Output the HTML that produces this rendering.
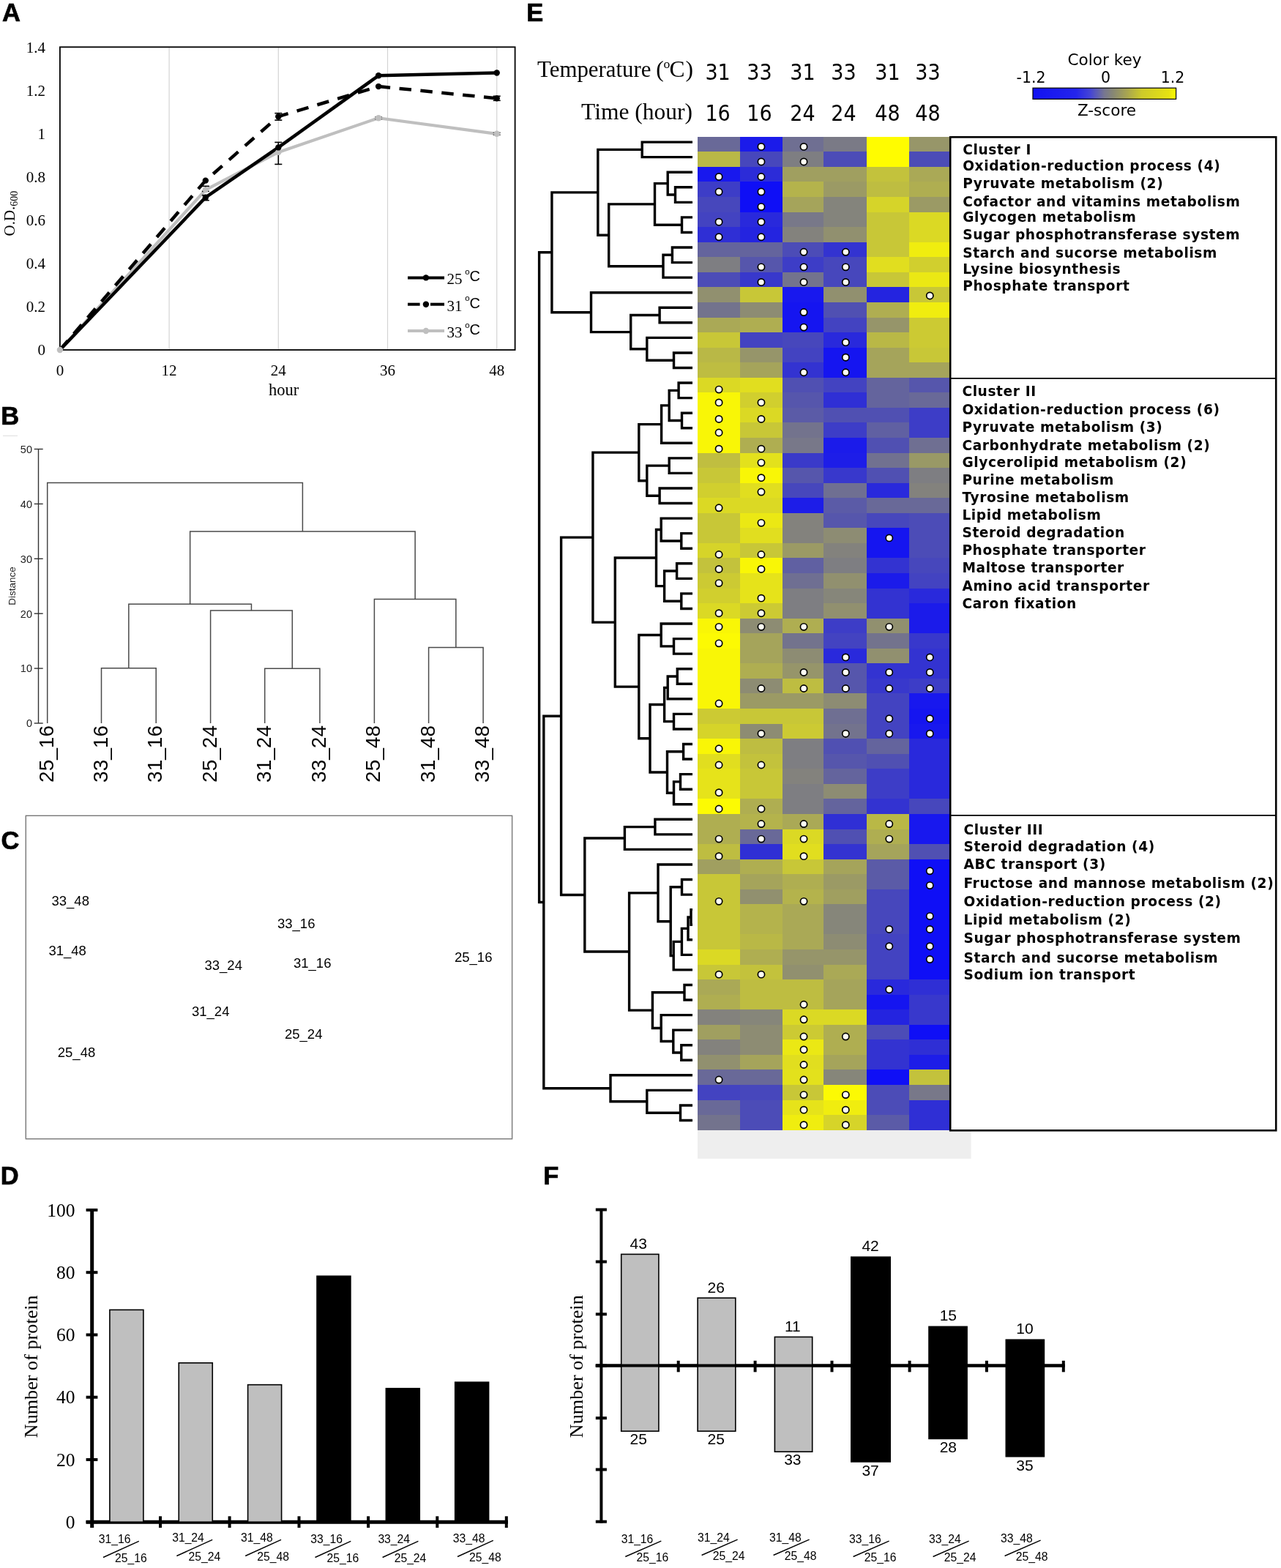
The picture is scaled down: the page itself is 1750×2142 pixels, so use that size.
<!DOCTYPE html><html><head><meta charset="utf-8"><title>Figure</title><style>html,body{margin:0;padding:0;background:#fff;overflow:hidden;width:1750px;height:2142px;}svg{display:block;}</style></head><body>
<svg width="1750" height="2142" viewBox="0 0 1750 2142">
<rect width="1750" height="2142" fill="#fff"/>
<text x="3" y="28.9" font-size="34.5" font-family="'Liberation Sans',Arial,sans-serif" text-anchor="start" font-weight="bold" fill="#000" stroke="#000" stroke-width="0.7">A</text>
<line x1="231.1" y1="64.3" x2="231.1" y2="478" stroke="#d4d4d4" stroke-width="1.2" />
<line x1="380.3" y1="64.3" x2="380.3" y2="478" stroke="#d4d4d4" stroke-width="1.2" />
<line x1="529.5" y1="64.3" x2="529.5" y2="478" stroke="#d4d4d4" stroke-width="1.2" />
<line x1="678.7" y1="64.3" x2="678.7" y2="478" stroke="#d4d4d4" stroke-width="1.2" />
<rect x="81.9" y="64.3" width="621.7" height="413.7" fill="none" stroke="#000" stroke-width="1.8"/>
<text x="62" y="485.2" font-size="21" font-family="'Liberation Serif','Times New Roman',serif" text-anchor="end" font-weight="normal" fill="#000" >0</text>
<text x="62" y="426.1" font-size="21" font-family="'Liberation Serif','Times New Roman',serif" text-anchor="end" font-weight="normal" fill="#000" >0.2</text>
<text x="62" y="367" font-size="21" font-family="'Liberation Serif','Times New Roman',serif" text-anchor="end" font-weight="normal" fill="#000" >0.4</text>
<text x="62" y="307.9" font-size="21" font-family="'Liberation Serif','Times New Roman',serif" text-anchor="end" font-weight="normal" fill="#000" >0.6</text>
<text x="62" y="248.8" font-size="21" font-family="'Liberation Serif','Times New Roman',serif" text-anchor="end" font-weight="normal" fill="#000" >0.8</text>
<text x="62" y="189.7" font-size="21" font-family="'Liberation Serif','Times New Roman',serif" text-anchor="end" font-weight="normal" fill="#000" >1</text>
<text x="62" y="130.6" font-size="21" font-family="'Liberation Serif','Times New Roman',serif" text-anchor="end" font-weight="normal" fill="#000" >1.2</text>
<text x="62" y="71.5" font-size="21" font-family="'Liberation Serif','Times New Roman',serif" text-anchor="end" font-weight="normal" fill="#000" >1.4</text>
<text x="81.9" y="512.8" font-size="21" font-family="'Liberation Serif','Times New Roman',serif" text-anchor="middle" font-weight="normal" fill="#000" >0</text>
<text x="231.1" y="512.8" font-size="21" font-family="'Liberation Serif','Times New Roman',serif" text-anchor="middle" font-weight="normal" fill="#000" >12</text>
<text x="380.3" y="512.8" font-size="21" font-family="'Liberation Serif','Times New Roman',serif" text-anchor="middle" font-weight="normal" fill="#000" >24</text>
<text x="529.5" y="512.8" font-size="21" font-family="'Liberation Serif','Times New Roman',serif" text-anchor="middle" font-weight="normal" fill="#000" >36</text>
<text x="678.7" y="512.8" font-size="21" font-family="'Liberation Serif','Times New Roman',serif" text-anchor="middle" font-weight="normal" fill="#000" >48</text>
<text x="387.7" y="539.5" font-size="22.5" font-family="'Liberation Serif','Times New Roman',serif" text-anchor="middle" font-weight="normal" fill="#000" >hour</text>
<text transform="translate(20,322.5) rotate(-90)" font-size="21" font-family="'Liberation Serif','Times New Roman',serif" fill="#000">O.D.<tspan font-size="14" dy="4">600</tspan></text>
<polyline points="81.9,478 280.83,259.33 380.3,207.91 517.07,161.22 678.7,182.8" fill="none" stroke="#bfbfbf" stroke-width="4.2" stroke-linejoin="round"/>
<polyline points="81.9,478 280.83,269.67 380.3,201.41 517.07,103.31 678.7,99.46" fill="none" stroke="#000" stroke-width="4.5" stroke-linejoin="round"/>
<polyline points="81.9,478 280.83,246.62 380.3,159.16 517.07,118.08 678.7,134.33" fill="none" stroke="#000" stroke-width="4.5" stroke-dasharray="16.5 12.5" stroke-linejoin="round"/>
<line x1="380.3" y1="194.41" x2="380.3" y2="224.41" stroke="#000" stroke-width="1.6" />
<line x1="375.3" y1="194.41" x2="385.3" y2="194.41" stroke="#000" stroke-width="1.6" />
<line x1="375.3" y1="224.41" x2="385.3" y2="224.41" stroke="#000" stroke-width="1.6" />
<line x1="380.3" y1="154.66" x2="380.3" y2="164.16" stroke="#000" stroke-width="1.6" />
<line x1="375.3" y1="154.66" x2="385.3" y2="154.66" stroke="#000" stroke-width="1.6" />
<line x1="375.3" y1="164.16" x2="385.3" y2="164.16" stroke="#000" stroke-width="1.6" />
<line x1="280.83" y1="266.67" x2="280.83" y2="273.67" stroke="#000" stroke-width="1.6" />
<line x1="275.83" y1="266.67" x2="285.83" y2="266.67" stroke="#000" stroke-width="1.6" />
<line x1="275.83" y1="273.67" x2="285.83" y2="273.67" stroke="#000" stroke-width="1.6" />
<line x1="280.83" y1="254.33" x2="280.83" y2="261.33" stroke="#000" stroke-width="1.6" />
<line x1="275.83" y1="254.33" x2="285.83" y2="254.33" stroke="#000" stroke-width="1.6" />
<line x1="275.83" y1="261.33" x2="285.83" y2="261.33" stroke="#000" stroke-width="1.6" />
<line x1="678.7" y1="131.33" x2="678.7" y2="137.33" stroke="#000" stroke-width="1.6" />
<line x1="673.7" y1="131.33" x2="683.7" y2="131.33" stroke="#000" stroke-width="1.6" />
<line x1="673.7" y1="137.33" x2="683.7" y2="137.33" stroke="#000" stroke-width="1.6" />
<line x1="678.7" y1="181.3" x2="678.7" y2="184.3" stroke="#555" stroke-width="1.6" />
<line x1="673.7" y1="181.3" x2="683.7" y2="181.3" stroke="#555" stroke-width="1.6" />
<line x1="673.7" y1="184.3" x2="683.7" y2="184.3" stroke="#555" stroke-width="1.6" />
<line x1="517.07" y1="159.72" x2="517.07" y2="162.72" stroke="#777" stroke-width="1.6" />
<line x1="512.07" y1="159.72" x2="522.07" y2="159.72" stroke="#777" stroke-width="1.6" />
<line x1="512.07" y1="162.72" x2="522.07" y2="162.72" stroke="#777" stroke-width="1.6" />
<circle cx="81.9" cy="478" r="4.2" fill="#bfbfbf"/>
<circle cx="280.83" cy="259.33" r="4.2" fill="#bfbfbf"/>
<circle cx="380.3" cy="207.91" r="4.2" fill="#bfbfbf"/>
<circle cx="517.07" cy="161.22" r="4.2" fill="#bfbfbf"/>
<circle cx="678.7" cy="182.8" r="4.2" fill="#bfbfbf"/>
<circle cx="280.83" cy="269.67" r="4.2" fill="#000"/>
<circle cx="380.3" cy="201.41" r="4.2" fill="#000"/>
<circle cx="517.07" cy="103.31" r="4.2" fill="#000"/>
<circle cx="678.7" cy="99.46" r="4.2" fill="#000"/>
<circle cx="280.83" cy="246.62" r="4.2" fill="#000"/>
<circle cx="380.3" cy="159.16" r="4.2" fill="#000"/>
<circle cx="517.07" cy="118.08" r="4.2" fill="#000"/>
<circle cx="678.7" cy="134.33" r="4.2" fill="#000"/>
<line x1="557" y1="379.4" x2="607" y2="379.4" stroke="#000" stroke-width="4" />
<circle cx="581.9" cy="379.4" r="4.2" fill="#000"/>
<text x="610.5" y="388.4" font-size="21" font-family="'Liberation Serif','Times New Roman',serif" text-anchor="start" font-weight="normal" fill="#000" >25</text>
<text x="635.3" y="374.9" font-size="11.5" font-family="'Liberation Sans',Arial,sans-serif" text-anchor="start" font-weight="normal" fill="#000" >o</text>
<text x="641.6" y="384.4" font-size="20" font-family="'Liberation Sans',Arial,sans-serif" text-anchor="start" font-weight="normal" fill="#000" >C</text>
<line x1="557" y1="415.7" x2="573.6" y2="415.7" stroke="#000" stroke-width="4" />
<line x1="588" y1="415.7" x2="607" y2="415.7" stroke="#000" stroke-width="4" />
<circle cx="581.9" cy="415.7" r="4.2" fill="#000"/>
<text x="610.5" y="424.7" font-size="21" font-family="'Liberation Serif','Times New Roman',serif" text-anchor="start" font-weight="normal" fill="#000" >31</text>
<text x="635.3" y="411.2" font-size="11.5" font-family="'Liberation Sans',Arial,sans-serif" text-anchor="start" font-weight="normal" fill="#000" >o</text>
<text x="641.6" y="420.7" font-size="20" font-family="'Liberation Sans',Arial,sans-serif" text-anchor="start" font-weight="normal" fill="#000" >C</text>
<line x1="557" y1="452" x2="607" y2="452" stroke="#bfbfbf" stroke-width="4" />
<circle cx="581.9" cy="452" r="4.2" fill="#bfbfbf"/>
<text x="610.5" y="461" font-size="21" font-family="'Liberation Serif','Times New Roman',serif" text-anchor="start" font-weight="normal" fill="#000" >33</text>
<text x="635.3" y="447.5" font-size="11.5" font-family="'Liberation Sans',Arial,sans-serif" text-anchor="start" font-weight="normal" fill="#000" >o</text>
<text x="641.6" y="457" font-size="20" font-family="'Liberation Sans',Arial,sans-serif" text-anchor="start" font-weight="normal" fill="#000" >C</text>
<text x="1.2" y="579.7" font-size="34.5" font-family="'Liberation Sans',Arial,sans-serif" text-anchor="start" font-weight="bold" fill="#000" stroke="#000" stroke-width="0.7">B</text>
<line x1="4" y1="595.3" x2="24" y2="595.3" stroke="#ddd" stroke-width="1" />
<line x1="52.5" y1="613.5" x2="52.5" y2="988" stroke="#333" stroke-width="1.4" />
<line x1="46.7" y1="988" x2="58.7" y2="988" stroke="#333" stroke-width="1.4" />
<text x="44" y="993.3" font-size="14.5" font-family="'Liberation Sans',Arial,sans-serif" text-anchor="end" font-weight="normal" fill="#222" >0</text>
<line x1="46.7" y1="913.1" x2="58.7" y2="913.1" stroke="#333" stroke-width="1.4" />
<text x="44" y="918.4" font-size="14.5" font-family="'Liberation Sans',Arial,sans-serif" text-anchor="end" font-weight="normal" fill="#222" >10</text>
<line x1="46.7" y1="838.2" x2="58.7" y2="838.2" stroke="#333" stroke-width="1.4" />
<text x="44" y="843.5" font-size="14.5" font-family="'Liberation Sans',Arial,sans-serif" text-anchor="end" font-weight="normal" fill="#222" >20</text>
<line x1="46.7" y1="763.3" x2="58.7" y2="763.3" stroke="#333" stroke-width="1.4" />
<text x="44" y="768.6" font-size="14.5" font-family="'Liberation Sans',Arial,sans-serif" text-anchor="end" font-weight="normal" fill="#222" >30</text>
<line x1="46.7" y1="688.4" x2="58.7" y2="688.4" stroke="#333" stroke-width="1.4" />
<text x="44" y="693.7" font-size="14.5" font-family="'Liberation Sans',Arial,sans-serif" text-anchor="end" font-weight="normal" fill="#222" >40</text>
<line x1="46.7" y1="613.5" x2="58.7" y2="613.5" stroke="#333" stroke-width="1.4" />
<text x="44" y="618.8" font-size="14.5" font-family="'Liberation Sans',Arial,sans-serif" text-anchor="end" font-weight="normal" fill="#222" >50</text>
<text transform="translate(21,800.5) rotate(-90)" font-size="13.5" font-family="'Liberation Sans',Arial,sans-serif" text-anchor="middle" fill="#222">Distance</text>
<path d="M138.5 988V912.7H213.2V988M361.7 988V913.3H436.9V988M287.6 988V833.9H399.3V913.3M175.85 912.7V825.2H343.45V833.9M585.6 988V884.5H660.1V988M511.4 988V818.4H622.85V884.5M259.65 825.2V725.9H567.12V818.4M64.7 988V659.5H413.39V725.9" fill="none" stroke="#4a4a4a" stroke-width="1.5"/>
<text transform="translate(72.7,991) rotate(-90)" font-size="28" font-family="'Liberation Sans',Arial,sans-serif" text-anchor="end" fill="#000">25_16</text>
<text transform="translate(146.5,991) rotate(-90)" font-size="28" font-family="'Liberation Sans',Arial,sans-serif" text-anchor="end" fill="#000">33_16</text>
<text transform="translate(221.2,991) rotate(-90)" font-size="28" font-family="'Liberation Sans',Arial,sans-serif" text-anchor="end" fill="#000">31_16</text>
<text transform="translate(295.6,991) rotate(-90)" font-size="28" font-family="'Liberation Sans',Arial,sans-serif" text-anchor="end" fill="#000">25_24</text>
<text transform="translate(369.7,991) rotate(-90)" font-size="28" font-family="'Liberation Sans',Arial,sans-serif" text-anchor="end" fill="#000">31_24</text>
<text transform="translate(444.9,991) rotate(-90)" font-size="28" font-family="'Liberation Sans',Arial,sans-serif" text-anchor="end" fill="#000">33_24</text>
<text transform="translate(519.4,991) rotate(-90)" font-size="28" font-family="'Liberation Sans',Arial,sans-serif" text-anchor="end" fill="#000">25_48</text>
<text transform="translate(593.6,991) rotate(-90)" font-size="28" font-family="'Liberation Sans',Arial,sans-serif" text-anchor="end" fill="#000">31_48</text>
<text transform="translate(668.1,991) rotate(-90)" font-size="28" font-family="'Liberation Sans',Arial,sans-serif" text-anchor="end" fill="#000">33_48</text>
<text x="1.6" y="1160.2" font-size="34.5" font-family="'Liberation Sans',Arial,sans-serif" text-anchor="start" font-weight="bold" fill="#000" stroke="#000" stroke-width="0.7">C</text>
<rect x="35.3" y="1114.3" width="664.3" height="441.5" fill="none" stroke="#777" stroke-width="1.4"/>
<text x="70.5" y="1236.8" font-size="18.5" font-family="'Liberation Sans',Arial,sans-serif" text-anchor="start" font-weight="normal" fill="#000" >33_48</text>
<text x="66.4" y="1305.2" font-size="18.5" font-family="'Liberation Sans',Arial,sans-serif" text-anchor="start" font-weight="normal" fill="#000" >31_48</text>
<text x="379" y="1267.6" font-size="18.5" font-family="'Liberation Sans',Arial,sans-serif" text-anchor="start" font-weight="normal" fill="#000" >33_16</text>
<text x="279.5" y="1325" font-size="18.5" font-family="'Liberation Sans',Arial,sans-serif" text-anchor="start" font-weight="normal" fill="#000" >33_24</text>
<text x="401" y="1322" font-size="18.5" font-family="'Liberation Sans',Arial,sans-serif" text-anchor="start" font-weight="normal" fill="#000" >31_16</text>
<text x="621" y="1313.7" font-size="18.5" font-family="'Liberation Sans',Arial,sans-serif" text-anchor="start" font-weight="normal" fill="#000" >25_16</text>
<text x="262" y="1387.6" font-size="18.5" font-family="'Liberation Sans',Arial,sans-serif" text-anchor="start" font-weight="normal" fill="#000" >31_24</text>
<text x="389" y="1418.7" font-size="18.5" font-family="'Liberation Sans',Arial,sans-serif" text-anchor="start" font-weight="normal" fill="#000" >25_24</text>
<text x="78.8" y="1444.4" font-size="18.5" font-family="'Liberation Sans',Arial,sans-serif" text-anchor="start" font-weight="normal" fill="#000" >25_48</text>
<text x="0.8" y="1618.2" font-size="34.5" font-family="'Liberation Sans',Arial,sans-serif" text-anchor="start" font-weight="bold" fill="#000" stroke="#000" stroke-width="0.7">D</text>
<line x1="125.7" y1="1651" x2="125.7" y2="2087" stroke="#000" stroke-width="5" />
<line x1="117.6" y1="2079.2" x2="133.4" y2="2079.2" stroke="#000" stroke-width="4" />
<text x="102.5" y="2087.8" font-size="25.5" font-family="'Liberation Serif','Times New Roman',serif" text-anchor="end" font-weight="normal" fill="#000" >0</text>
<line x1="117.6" y1="1993.95" x2="133.4" y2="1993.95" stroke="#000" stroke-width="4" />
<text x="102.5" y="2002.55" font-size="25.5" font-family="'Liberation Serif','Times New Roman',serif" text-anchor="end" font-weight="normal" fill="#000" >20</text>
<line x1="117.6" y1="1908.7" x2="133.4" y2="1908.7" stroke="#000" stroke-width="4" />
<text x="102.5" y="1917.3" font-size="25.5" font-family="'Liberation Serif','Times New Roman',serif" text-anchor="end" font-weight="normal" fill="#000" >40</text>
<line x1="117.6" y1="1823.45" x2="133.4" y2="1823.45" stroke="#000" stroke-width="4" />
<text x="102.5" y="1832.05" font-size="25.5" font-family="'Liberation Serif','Times New Roman',serif" text-anchor="end" font-weight="normal" fill="#000" >60</text>
<line x1="117.6" y1="1738.2" x2="133.4" y2="1738.2" stroke="#000" stroke-width="4" />
<text x="102.5" y="1746.8" font-size="25.5" font-family="'Liberation Serif','Times New Roman',serif" text-anchor="end" font-weight="normal" fill="#000" >80</text>
<line x1="117.6" y1="1652.95" x2="133.4" y2="1652.95" stroke="#000" stroke-width="4" />
<text x="102.5" y="1661.55" font-size="25.5" font-family="'Liberation Serif','Times New Roman',serif" text-anchor="end" font-weight="normal" fill="#000" >100</text>
<line x1="117.6" y1="2079.2" x2="694" y2="2079.2" stroke="#000" stroke-width="5" />
<line x1="219" y1="2071.3" x2="219" y2="2087" stroke="#000" stroke-width="4" />
<line x1="313.6" y1="2071.3" x2="313.6" y2="2087" stroke="#000" stroke-width="4" />
<line x1="408.5" y1="2071.3" x2="408.5" y2="2087" stroke="#000" stroke-width="4" />
<line x1="503.1" y1="2071.3" x2="503.1" y2="2087" stroke="#000" stroke-width="4" />
<line x1="597.3" y1="2071.3" x2="597.3" y2="2087" stroke="#000" stroke-width="4" />
<line x1="691.8" y1="2071.3" x2="691.8" y2="2087" stroke="#000" stroke-width="4" />
<rect x="149.9" y="1789.35" width="46" height="289.85" fill="#bfbfbf" stroke="#000" stroke-width="1.6"/>
<rect x="244.25" y="1861.81" width="46" height="217.39" fill="#bfbfbf" stroke="#000" stroke-width="1.6"/>
<rect x="338.6" y="1891.65" width="46" height="187.55" fill="#bfbfbf" stroke="#000" stroke-width="1.6"/>
<rect x="432.2" y="1742.46" width="47.5" height="336.74" fill="#000"/>
<rect x="526.55" y="1895.91" width="47.5" height="183.29" fill="#000"/>
<rect x="620.9" y="1887.39" width="47.5" height="191.81" fill="#000"/>
<text transform="translate(51,1866.8) rotate(-90)" font-size="26.2" font-family="'Liberation Serif','Times New Roman',serif" text-anchor="middle" fill="#000">Number of protein</text>
<text x="134.8" y="2107.8" font-size="15.7" font-family="'Liberation Sans',Arial,sans-serif" text-anchor="start" font-weight="normal" fill="#000" >31_16</text>
<line x1="141" y1="2127.5" x2="189.8" y2="2105.3" stroke="#000" stroke-width="1.4" />
<text x="157.1" y="2134.2" font-size="15.7" font-family="'Liberation Sans',Arial,sans-serif" text-anchor="start" font-weight="normal" fill="#000" >25_16</text>
<text x="235.2" y="2105.8" font-size="15.7" font-family="'Liberation Sans',Arial,sans-serif" text-anchor="start" font-weight="normal" fill="#000" >31_24</text>
<line x1="241.4" y1="2125.5" x2="290.2" y2="2103.3" stroke="#000" stroke-width="1.4" />
<text x="257.5" y="2132.2" font-size="15.7" font-family="'Liberation Sans',Arial,sans-serif" text-anchor="start" font-weight="normal" fill="#000" >25_24</text>
<text x="329" y="2105.8" font-size="15.7" font-family="'Liberation Sans',Arial,sans-serif" text-anchor="start" font-weight="normal" fill="#000" >31_48</text>
<line x1="335.2" y1="2125.5" x2="384" y2="2103.3" stroke="#000" stroke-width="1.4" />
<text x="351.3" y="2132.2" font-size="15.7" font-family="'Liberation Sans',Arial,sans-serif" text-anchor="start" font-weight="normal" fill="#000" >25_48</text>
<text x="424.3" y="2107.8" font-size="15.7" font-family="'Liberation Sans',Arial,sans-serif" text-anchor="start" font-weight="normal" fill="#000" >33_16</text>
<line x1="430.5" y1="2127.5" x2="479.3" y2="2105.3" stroke="#000" stroke-width="1.4" />
<text x="446.6" y="2134.2" font-size="15.7" font-family="'Liberation Sans',Arial,sans-serif" text-anchor="start" font-weight="normal" fill="#000" >25_16</text>
<text x="516.4" y="2107.8" font-size="15.7" font-family="'Liberation Sans',Arial,sans-serif" text-anchor="start" font-weight="normal" fill="#000" >33_24</text>
<line x1="522.6" y1="2127.5" x2="571.4" y2="2105.3" stroke="#000" stroke-width="1.4" />
<text x="538.7" y="2134.2" font-size="15.7" font-family="'Liberation Sans',Arial,sans-serif" text-anchor="start" font-weight="normal" fill="#000" >25_24</text>
<text x="618.8" y="2106.8" font-size="15.7" font-family="'Liberation Sans',Arial,sans-serif" text-anchor="start" font-weight="normal" fill="#000" >33_48</text>
<line x1="625" y1="2126.5" x2="673.8" y2="2104.3" stroke="#000" stroke-width="1.4" />
<text x="641.1" y="2133.2" font-size="15.7" font-family="'Liberation Sans',Arial,sans-serif" text-anchor="start" font-weight="normal" fill="#000" >25_48</text>
<text x="719.2" y="29.4" font-size="34.5" font-family="'Liberation Sans',Arial,sans-serif" text-anchor="start" font-weight="bold" fill="#000" stroke="#000" stroke-width="0.7">E</text>
<text x="734" y="105.2" font-size="31.5" font-family="'Liberation Serif','Times New Roman',serif" text-anchor="start" font-weight="normal" fill="#000" textLength="155.5" lengthAdjust="spacingAndGlyphs">Temperature</text>
<text x="896.2" y="105.2" font-size="31.5" font-family="'Liberation Serif','Times New Roman',serif" text-anchor="start" font-weight="normal" fill="#000" >(</text>
<text x="906.6" y="92.6" font-size="17.5" font-family="'Liberation Serif','Times New Roman',serif" text-anchor="start" font-weight="normal" fill="#000" >o</text>
<text x="914.6" y="105.2" font-size="31.5" font-family="'Liberation Serif','Times New Roman',serif" text-anchor="start" font-weight="normal" fill="#000" >C</text>
<text x="936.4" y="105.2" font-size="31.5" font-family="'Liberation Serif','Times New Roman',serif" text-anchor="start" font-weight="normal" fill="#000" >)</text>
<text x="946" y="163" font-size="31.5" font-family="'Liberation Serif','Times New Roman',serif" text-anchor="end" font-weight="normal" fill="#000" >Time (hour)</text>
<text x="980.6" y="109.3" font-size="30" font-family="'DejaVu Sans',Verdana,sans-serif" text-anchor="middle" font-weight="normal" fill="#000" font-stretch="condensed">31</text>
<text x="980.6" y="164.7" font-size="30" font-family="'DejaVu Sans',Verdana,sans-serif" text-anchor="middle" font-weight="normal" fill="#000" font-stretch="condensed">16</text>
<text x="1037.4" y="109.3" font-size="30" font-family="'DejaVu Sans',Verdana,sans-serif" text-anchor="middle" font-weight="normal" fill="#000" font-stretch="condensed">33</text>
<text x="1037.4" y="164.7" font-size="30" font-family="'DejaVu Sans',Verdana,sans-serif" text-anchor="middle" font-weight="normal" fill="#000" font-stretch="condensed">16</text>
<text x="1096.5" y="109.3" font-size="30" font-family="'DejaVu Sans',Verdana,sans-serif" text-anchor="middle" font-weight="normal" fill="#000" font-stretch="condensed">31</text>
<text x="1096.5" y="164.7" font-size="30" font-family="'DejaVu Sans',Verdana,sans-serif" text-anchor="middle" font-weight="normal" fill="#000" font-stretch="condensed">24</text>
<text x="1152.4" y="109.3" font-size="30" font-family="'DejaVu Sans',Verdana,sans-serif" text-anchor="middle" font-weight="normal" fill="#000" font-stretch="condensed">33</text>
<text x="1152.4" y="164.7" font-size="30" font-family="'DejaVu Sans',Verdana,sans-serif" text-anchor="middle" font-weight="normal" fill="#000" font-stretch="condensed">24</text>
<text x="1212.5" y="109.3" font-size="30" font-family="'DejaVu Sans',Verdana,sans-serif" text-anchor="middle" font-weight="normal" fill="#000" font-stretch="condensed">31</text>
<text x="1212.5" y="164.7" font-size="30" font-family="'DejaVu Sans',Verdana,sans-serif" text-anchor="middle" font-weight="normal" fill="#000" font-stretch="condensed">48</text>
<text x="1267.5" y="109.3" font-size="30" font-family="'DejaVu Sans',Verdana,sans-serif" text-anchor="middle" font-weight="normal" fill="#000" font-stretch="condensed">33</text>
<text x="1267.5" y="164.7" font-size="30" font-family="'DejaVu Sans',Verdana,sans-serif" text-anchor="middle" font-weight="normal" fill="#000" font-stretch="condensed">48</text>
<defs><linearGradient id="ck" x1="0" x2="1" y1="0" y2="0"><stop offset="0" stop-color="#1212f2"/><stop offset="0.3" stop-color="#2424ec"/><stop offset="0.4" stop-color="#4444d6"/><stop offset="0.5" stop-color="#777790"/><stop offset="0.56" stop-color="#878774"/><stop offset="0.66" stop-color="#a9a650"/><stop offset="0.76" stop-color="#cdca2a"/><stop offset="0.95" stop-color="#e6e212"/><stop offset="1" stop-color="#ffff00"/></linearGradient></defs>
<rect x="1411" y="120.2" width="195.6" height="15.2" fill="url(#ck)" stroke="#000" stroke-width="1.2"/>
<text x="1509" y="89.4" font-size="21.6" font-family="'DejaVu Sans',Verdana,sans-serif" text-anchor="middle" font-weight="normal" fill="#000" >Color key</text>
<text x="1408.5" y="113" font-size="20.5" font-family="'DejaVu Sans',Verdana,sans-serif" text-anchor="middle" font-weight="normal" fill="#000" >-1.2</text>
<text x="1510.5" y="113" font-size="20.5" font-family="'DejaVu Sans',Verdana,sans-serif" text-anchor="middle" font-weight="normal" fill="#000" >0</text>
<text x="1602" y="113" font-size="20.5" font-family="'DejaVu Sans',Verdana,sans-serif" text-anchor="middle" font-weight="normal" fill="#000" >1.2</text>
<text x="1512" y="158.2" font-size="21.6" font-family="'DejaVu Sans',Verdana,sans-serif" text-anchor="middle" font-weight="normal" fill="#000" >Z-score</text>
<g shape-rendering="crispEdges">
<rect x="953.2" y="186.8" width="58.1" height="20.86" fill="#696998"/>
<rect x="1011" y="186.8" width="58.2" height="20.86" fill="#1b1bea"/>
<rect x="1068.9" y="186.8" width="56.8" height="20.86" fill="#6f6f92"/>
<rect x="1125.4" y="186.8" width="58.5" height="20.86" fill="#7a7a86"/>
<rect x="1183.6" y="186.8" width="58.7" height="20.86" fill="#fffc00"/>
<rect x="1242" y="186.8" width="55.9" height="20.86" fill="#979669"/>
<rect x="953.2" y="207.36" width="58.1" height="20.86" fill="#b9b846"/>
<rect x="1011" y="207.36" width="58.2" height="20.86" fill="#4747bc"/>
<rect x="1068.9" y="207.36" width="56.8" height="20.86" fill="#7e7e82"/>
<rect x="1125.4" y="207.36" width="58.5" height="20.86" fill="#4c4cb7"/>
<rect x="1183.6" y="207.36" width="58.7" height="20.86" fill="#fffc00"/>
<rect x="1242" y="207.36" width="55.9" height="20.86" fill="#4c4cb7"/>
<rect x="953.2" y="227.92" width="58.1" height="20.86" fill="#1818ee"/>
<rect x="1011" y="227.92" width="58.2" height="20.86" fill="#2c2cd8"/>
<rect x="1068.9" y="227.92" width="56.8" height="20.86" fill="#a09f60"/>
<rect x="1125.4" y="227.92" width="58.5" height="20.86" fill="#a09f60"/>
<rect x="1183.6" y="227.92" width="58.7" height="20.86" fill="#c3c23c"/>
<rect x="1242" y="227.92" width="55.9" height="20.86" fill="#aaa956"/>
<rect x="953.2" y="248.48" width="58.1" height="20.86" fill="#3d3dc7"/>
<rect x="1011" y="248.48" width="58.2" height="20.86" fill="#0f0ff6"/>
<rect x="1068.9" y="248.48" width="56.8" height="20.86" fill="#b4b34c"/>
<rect x="1125.4" y="248.48" width="58.5" height="20.86" fill="#9b9a65"/>
<rect x="1183.6" y="248.48" width="58.7" height="20.86" fill="#bebd41"/>
<rect x="1242" y="248.48" width="55.9" height="20.86" fill="#afae51"/>
<rect x="953.2" y="269.04" width="58.1" height="20.86" fill="#4747bc"/>
<rect x="1011" y="269.04" width="58.2" height="20.86" fill="#0f0ff6"/>
<rect x="1068.9" y="269.04" width="56.8" height="20.86" fill="#a5a45b"/>
<rect x="1125.4" y="269.04" width="58.5" height="20.86" fill="#84847c"/>
<rect x="1183.6" y="269.04" width="58.7" height="20.86" fill="#d6d429"/>
<rect x="1242" y="269.04" width="55.9" height="20.86" fill="#9b9a65"/>
<rect x="953.2" y="289.6" width="58.1" height="20.86" fill="#4343c1"/>
<rect x="1011" y="289.6" width="58.2" height="20.86" fill="#2929dc"/>
<rect x="1068.9" y="289.6" width="56.8" height="20.86" fill="#787889"/>
<rect x="1125.4" y="289.6" width="58.5" height="20.86" fill="#84847c"/>
<rect x="1183.6" y="289.6" width="58.7" height="20.86" fill="#c8c737"/>
<rect x="1242" y="289.6" width="55.9" height="20.86" fill="#dbd924"/>
<rect x="953.2" y="310.15" width="58.1" height="20.86" fill="#2f2fd5"/>
<rect x="1011" y="310.15" width="58.2" height="20.86" fill="#2424e0"/>
<rect x="1068.9" y="310.15" width="56.8" height="20.86" fill="#83827d"/>
<rect x="1125.4" y="310.15" width="58.5" height="20.86" fill="#91906f"/>
<rect x="1183.6" y="310.15" width="58.7" height="20.86" fill="#c8c737"/>
<rect x="1242" y="310.15" width="55.9" height="20.86" fill="#dbd924"/>
<rect x="953.2" y="330.71" width="58.1" height="20.86" fill="#64649d"/>
<rect x="1011" y="330.71" width="58.2" height="20.86" fill="#64649d"/>
<rect x="1068.9" y="330.71" width="56.8" height="20.86" fill="#4c4cb7"/>
<rect x="1125.4" y="330.71" width="58.5" height="20.86" fill="#3333d1"/>
<rect x="1183.6" y="330.71" width="58.7" height="20.86" fill="#c8c737"/>
<rect x="1242" y="330.71" width="55.9" height="20.86" fill="#f0ed0f"/>
<rect x="953.2" y="351.27" width="58.1" height="20.86" fill="#7e7e82"/>
<rect x="1011" y="351.27" width="58.2" height="20.86" fill="#5656ac"/>
<rect x="1068.9" y="351.27" width="56.8" height="20.86" fill="#3d3dc7"/>
<rect x="1125.4" y="351.27" width="58.5" height="20.86" fill="#4747bc"/>
<rect x="1183.6" y="351.27" width="58.7" height="20.86" fill="#e1de1f"/>
<rect x="1242" y="351.27" width="55.9" height="20.86" fill="#d1cf2e"/>
<rect x="953.2" y="371.83" width="58.1" height="20.86" fill="#4c4cb7"/>
<rect x="1011" y="371.83" width="58.2" height="20.86" fill="#3838cc"/>
<rect x="1068.9" y="371.83" width="56.8" height="20.86" fill="#73738d"/>
<rect x="1125.4" y="371.83" width="58.5" height="20.86" fill="#4747bc"/>
<rect x="1183.6" y="371.83" width="58.7" height="20.86" fill="#c8c737"/>
<rect x="1242" y="371.83" width="55.9" height="20.86" fill="#ebe814"/>
<rect x="953.2" y="392.39" width="58.1" height="20.86" fill="#91906f"/>
<rect x="1011" y="392.39" width="58.2" height="20.86" fill="#c8c737"/>
<rect x="1068.9" y="392.39" width="56.8" height="20.86" fill="#1818ee"/>
<rect x="1125.4" y="392.39" width="58.5" height="20.86" fill="#91906f"/>
<rect x="1183.6" y="392.39" width="58.7" height="20.86" fill="#2424e0"/>
<rect x="1242" y="392.39" width="55.9" height="20.86" fill="#c8c737"/>
<rect x="953.2" y="412.95" width="58.1" height="20.86" fill="#73738d"/>
<rect x="1011" y="412.95" width="58.2" height="20.86" fill="#8d8c73"/>
<rect x="1068.9" y="412.95" width="56.8" height="20.86" fill="#1515f0"/>
<rect x="1125.4" y="412.95" width="58.5" height="20.86" fill="#5050b2"/>
<rect x="1183.6" y="412.95" width="58.7" height="20.86" fill="#afae51"/>
<rect x="1242" y="412.95" width="55.9" height="20.86" fill="#f0ed0f"/>
<rect x="953.2" y="433.51" width="58.1" height="20.86" fill="#aaa956"/>
<rect x="1011" y="433.51" width="58.2" height="20.86" fill="#afae51"/>
<rect x="1068.9" y="433.51" width="56.8" height="20.86" fill="#1515f0"/>
<rect x="1125.4" y="433.51" width="58.5" height="20.86" fill="#4343c1"/>
<rect x="1183.6" y="433.51" width="58.7" height="20.86" fill="#96956a"/>
<rect x="1242" y="433.51" width="55.9" height="20.86" fill="#ccca33"/>
<rect x="953.2" y="454.07" width="58.1" height="20.86" fill="#c8c737"/>
<rect x="1011" y="454.07" width="58.2" height="20.86" fill="#4343c1"/>
<rect x="1068.9" y="454.07" width="56.8" height="20.86" fill="#4747bc"/>
<rect x="1125.4" y="454.07" width="58.5" height="20.86" fill="#2929dc"/>
<rect x="1183.6" y="454.07" width="58.7" height="20.86" fill="#b9b846"/>
<rect x="1242" y="454.07" width="55.9" height="20.86" fill="#ccca33"/>
<rect x="953.2" y="474.63" width="58.1" height="20.86" fill="#b9b846"/>
<rect x="1011" y="474.63" width="58.2" height="20.86" fill="#96956a"/>
<rect x="1068.9" y="474.63" width="56.8" height="20.86" fill="#4343c1"/>
<rect x="1125.4" y="474.63" width="58.5" height="20.86" fill="#1515f0"/>
<rect x="1183.6" y="474.63" width="58.7" height="20.86" fill="#a5a45b"/>
<rect x="1242" y="474.63" width="55.9" height="20.86" fill="#c8c737"/>
<rect x="953.2" y="495.19" width="58.1" height="20.86" fill="#bebd41"/>
<rect x="1011" y="495.19" width="58.2" height="20.86" fill="#a5a45b"/>
<rect x="1068.9" y="495.19" width="56.8" height="20.86" fill="#3333d1"/>
<rect x="1125.4" y="495.19" width="58.5" height="20.86" fill="#1515f0"/>
<rect x="1183.6" y="495.19" width="58.7" height="20.86" fill="#a5a45b"/>
<rect x="1242" y="495.19" width="55.9" height="20.86" fill="#a5a45b"/>
<rect x="953.2" y="515.75" width="58.1" height="20.86" fill="#dbd924"/>
<rect x="1011" y="515.75" width="58.2" height="20.86" fill="#e1de1f"/>
<rect x="1068.9" y="515.75" width="56.8" height="20.86" fill="#5050b2"/>
<rect x="1125.4" y="515.75" width="58.5" height="20.86" fill="#4343c1"/>
<rect x="1183.6" y="515.75" width="58.7" height="20.86" fill="#64649d"/>
<rect x="1242" y="515.75" width="55.9" height="20.86" fill="#5656ac"/>
<rect x="953.2" y="536.3" width="58.1" height="20.86" fill="#f9f606"/>
<rect x="1011" y="536.3" width="58.2" height="20.86" fill="#d1cf2e"/>
<rect x="1068.9" y="536.3" width="56.8" height="20.86" fill="#5656ac"/>
<rect x="1125.4" y="536.3" width="58.5" height="20.86" fill="#2f2fd5"/>
<rect x="1183.6" y="536.3" width="58.7" height="20.86" fill="#64649d"/>
<rect x="1242" y="536.3" width="55.9" height="20.86" fill="#696998"/>
<rect x="953.2" y="556.86" width="58.1" height="20.86" fill="#f9f606"/>
<rect x="1011" y="556.86" width="58.2" height="20.86" fill="#dbd924"/>
<rect x="1068.9" y="556.86" width="56.8" height="20.86" fill="#5b5ba7"/>
<rect x="1125.4" y="556.86" width="58.5" height="20.86" fill="#5050b2"/>
<rect x="1183.6" y="556.86" width="58.7" height="20.86" fill="#5050b2"/>
<rect x="1242" y="556.86" width="55.9" height="20.86" fill="#3d3dc7"/>
<rect x="953.2" y="577.42" width="58.1" height="20.86" fill="#f9f606"/>
<rect x="1011" y="577.42" width="58.2" height="20.86" fill="#c8c737"/>
<rect x="1068.9" y="577.42" width="56.8" height="20.86" fill="#73738d"/>
<rect x="1125.4" y="577.42" width="58.5" height="20.86" fill="#3d3dc7"/>
<rect x="1183.6" y="577.42" width="58.7" height="20.86" fill="#6060a2"/>
<rect x="1242" y="577.42" width="55.9" height="20.86" fill="#3d3dc7"/>
<rect x="953.2" y="597.98" width="58.1" height="20.86" fill="#f9f606"/>
<rect x="1011" y="597.98" width="58.2" height="20.86" fill="#afae51"/>
<rect x="1068.9" y="597.98" width="56.8" height="20.86" fill="#787889"/>
<rect x="1125.4" y="597.98" width="58.5" height="20.86" fill="#1b1bea"/>
<rect x="1183.6" y="597.98" width="58.7" height="20.86" fill="#5050b2"/>
<rect x="1242" y="597.98" width="55.9" height="20.86" fill="#6f6f92"/>
<rect x="953.2" y="618.54" width="58.1" height="20.86" fill="#c0be40"/>
<rect x="1011" y="618.54" width="58.2" height="20.86" fill="#e3e11c"/>
<rect x="1068.9" y="618.54" width="56.8" height="20.86" fill="#3a3ac9"/>
<rect x="1125.4" y="618.54" width="58.5" height="20.86" fill="#1d1de8"/>
<rect x="1183.6" y="618.54" width="58.7" height="20.86" fill="#717190"/>
<rect x="1242" y="618.54" width="55.9" height="20.86" fill="#999966"/>
<rect x="953.2" y="639.1" width="58.1" height="20.86" fill="#c8c737"/>
<rect x="1011" y="639.1" width="58.2" height="20.86" fill="#f9f606"/>
<rect x="1068.9" y="639.1" width="56.8" height="20.86" fill="#5656ac"/>
<rect x="1125.4" y="639.1" width="58.5" height="20.86" fill="#3838cc"/>
<rect x="1183.6" y="639.1" width="58.7" height="20.86" fill="#5050b2"/>
<rect x="1242" y="639.1" width="55.9" height="20.86" fill="#7e7e82"/>
<rect x="953.2" y="659.66" width="58.1" height="20.86" fill="#d1cf2e"/>
<rect x="1011" y="659.66" width="58.2" height="20.86" fill="#e1de1f"/>
<rect x="1068.9" y="659.66" width="56.8" height="20.86" fill="#4747bc"/>
<rect x="1125.4" y="659.66" width="58.5" height="20.86" fill="#6f6f92"/>
<rect x="1183.6" y="659.66" width="58.7" height="20.86" fill="#2929dc"/>
<rect x="1242" y="659.66" width="55.9" height="20.86" fill="#83827d"/>
<rect x="953.2" y="680.22" width="58.1" height="20.86" fill="#dbd924"/>
<rect x="1011" y="680.22" width="58.2" height="20.86" fill="#dbd924"/>
<rect x="1068.9" y="680.22" width="56.8" height="20.86" fill="#1d1de8"/>
<rect x="1125.4" y="680.22" width="58.5" height="20.86" fill="#5b5ba7"/>
<rect x="1183.6" y="680.22" width="58.7" height="20.86" fill="#696998"/>
<rect x="1242" y="680.22" width="55.9" height="20.86" fill="#696998"/>
<rect x="953.2" y="700.78" width="58.1" height="20.86" fill="#c8c737"/>
<rect x="1011" y="700.78" width="58.2" height="20.86" fill="#ebe814"/>
<rect x="1068.9" y="700.78" width="56.8" height="20.86" fill="#83827d"/>
<rect x="1125.4" y="700.78" width="58.5" height="20.86" fill="#5656ac"/>
<rect x="1183.6" y="700.78" width="58.7" height="20.86" fill="#4747bc"/>
<rect x="1242" y="700.78" width="55.9" height="20.86" fill="#4c4cb7"/>
<rect x="953.2" y="721.34" width="58.1" height="20.86" fill="#c8c737"/>
<rect x="1011" y="721.34" width="58.2" height="20.86" fill="#e1de1f"/>
<rect x="1068.9" y="721.34" width="56.8" height="20.86" fill="#83827d"/>
<rect x="1125.4" y="721.34" width="58.5" height="20.86" fill="#8d8c73"/>
<rect x="1183.6" y="721.34" width="58.7" height="20.86" fill="#1515f0"/>
<rect x="1242" y="721.34" width="55.9" height="20.86" fill="#4c4cb7"/>
<rect x="953.2" y="741.9" width="58.1" height="20.86" fill="#d6d429"/>
<rect x="1011" y="741.9" width="58.2" height="20.86" fill="#c8c737"/>
<rect x="1068.9" y="741.9" width="56.8" height="20.86" fill="#9b9a65"/>
<rect x="1125.4" y="741.9" width="58.5" height="20.86" fill="#83827d"/>
<rect x="1183.6" y="741.9" width="58.7" height="20.86" fill="#1515f0"/>
<rect x="1242" y="741.9" width="55.9" height="20.86" fill="#4c4cb7"/>
<rect x="953.2" y="762.45" width="58.1" height="20.86" fill="#c3c23c"/>
<rect x="1011" y="762.45" width="58.2" height="20.86" fill="#f9f606"/>
<rect x="1068.9" y="762.45" width="56.8" height="20.86" fill="#6060a2"/>
<rect x="1125.4" y="762.45" width="58.5" height="20.86" fill="#7e7e82"/>
<rect x="1183.6" y="762.45" width="58.7" height="20.86" fill="#3333d1"/>
<rect x="1242" y="762.45" width="55.9" height="20.86" fill="#4747bc"/>
<rect x="953.2" y="783.01" width="58.1" height="20.86" fill="#ccca33"/>
<rect x="1011" y="783.01" width="58.2" height="20.86" fill="#e6e31a"/>
<rect x="1068.9" y="783.01" width="56.8" height="20.86" fill="#6f6f92"/>
<rect x="1125.4" y="783.01" width="58.5" height="20.86" fill="#91906f"/>
<rect x="1183.6" y="783.01" width="58.7" height="20.86" fill="#1b1bea"/>
<rect x="1242" y="783.01" width="55.9" height="20.86" fill="#4343c1"/>
<rect x="953.2" y="803.57" width="58.1" height="20.86" fill="#d1cf2e"/>
<rect x="1011" y="803.57" width="58.2" height="20.86" fill="#e6e31a"/>
<rect x="1068.9" y="803.57" width="56.8" height="20.86" fill="#7e7e82"/>
<rect x="1125.4" y="803.57" width="58.5" height="20.86" fill="#86867a"/>
<rect x="1183.6" y="803.57" width="58.7" height="20.86" fill="#3333d1"/>
<rect x="1242" y="803.57" width="55.9" height="20.86" fill="#2929dc"/>
<rect x="953.2" y="824.13" width="58.1" height="20.86" fill="#dbd924"/>
<rect x="1011" y="824.13" width="58.2" height="20.86" fill="#ccca33"/>
<rect x="1068.9" y="824.13" width="56.8" height="20.86" fill="#7e7e82"/>
<rect x="1125.4" y="824.13" width="58.5" height="20.86" fill="#91906f"/>
<rect x="1183.6" y="824.13" width="58.7" height="20.86" fill="#3333d1"/>
<rect x="1242" y="824.13" width="55.9" height="20.86" fill="#1b1bea"/>
<rect x="953.2" y="844.69" width="58.1" height="20.86" fill="#f9f606"/>
<rect x="1011" y="844.69" width="58.2" height="20.86" fill="#8d8c73"/>
<rect x="1068.9" y="844.69" width="56.8" height="20.86" fill="#afae51"/>
<rect x="1125.4" y="844.69" width="58.5" height="20.86" fill="#3d3dc7"/>
<rect x="1183.6" y="844.69" width="58.7" height="20.86" fill="#91906f"/>
<rect x="1242" y="844.69" width="55.9" height="20.86" fill="#1b1bea"/>
<rect x="953.2" y="865.25" width="58.1" height="20.86" fill="#fcfa03"/>
<rect x="1011" y="865.25" width="58.2" height="20.86" fill="#a5a45b"/>
<rect x="1068.9" y="865.25" width="56.8" height="20.86" fill="#73738d"/>
<rect x="1125.4" y="865.25" width="58.5" height="20.86" fill="#4343c1"/>
<rect x="1183.6" y="865.25" width="58.7" height="20.86" fill="#73738d"/>
<rect x="1242" y="865.25" width="55.9" height="20.86" fill="#3838cc"/>
<rect x="953.2" y="885.81" width="58.1" height="20.86" fill="#f9f606"/>
<rect x="1011" y="885.81" width="58.2" height="20.86" fill="#a5a45b"/>
<rect x="1068.9" y="885.81" width="56.8" height="20.86" fill="#8d8c73"/>
<rect x="1125.4" y="885.81" width="58.5" height="20.86" fill="#2929dc"/>
<rect x="1183.6" y="885.81" width="58.7" height="20.86" fill="#91906f"/>
<rect x="1242" y="885.81" width="55.9" height="20.86" fill="#3333d1"/>
<rect x="953.2" y="906.37" width="58.1" height="20.86" fill="#f9f606"/>
<rect x="1011" y="906.37" width="58.2" height="20.86" fill="#afae51"/>
<rect x="1068.9" y="906.37" width="56.8" height="20.86" fill="#96956a"/>
<rect x="1125.4" y="906.37" width="58.5" height="20.86" fill="#5656ac"/>
<rect x="1183.6" y="906.37" width="58.7" height="20.86" fill="#3333d1"/>
<rect x="1242" y="906.37" width="55.9" height="20.86" fill="#3333d1"/>
<rect x="953.2" y="926.93" width="58.1" height="20.86" fill="#f9f606"/>
<rect x="1011" y="926.93" width="58.2" height="20.86" fill="#8d8c73"/>
<rect x="1068.9" y="926.93" width="56.8" height="20.86" fill="#bebd41"/>
<rect x="1125.4" y="926.93" width="58.5" height="20.86" fill="#5656ac"/>
<rect x="1183.6" y="926.93" width="58.7" height="20.86" fill="#3838cc"/>
<rect x="1242" y="926.93" width="55.9" height="20.86" fill="#3d3dc7"/>
<rect x="953.2" y="947.49" width="58.1" height="20.86" fill="#f9f606"/>
<rect x="1011" y="947.49" width="58.2" height="20.86" fill="#9b9a65"/>
<rect x="1068.9" y="947.49" width="56.8" height="20.86" fill="#9b9a65"/>
<rect x="1125.4" y="947.49" width="58.5" height="20.86" fill="#8d8c73"/>
<rect x="1183.6" y="947.49" width="58.7" height="20.86" fill="#4343c1"/>
<rect x="1242" y="947.49" width="55.9" height="20.86" fill="#1818ee"/>
<rect x="953.2" y="968.05" width="58.1" height="20.86" fill="#ccca33"/>
<rect x="1011" y="968.05" width="58.2" height="20.86" fill="#c8c737"/>
<rect x="1068.9" y="968.05" width="56.8" height="20.86" fill="#c8c737"/>
<rect x="1125.4" y="968.05" width="58.5" height="20.86" fill="#6f6f92"/>
<rect x="1183.6" y="968.05" width="58.7" height="20.86" fill="#4343c1"/>
<rect x="1242" y="968.05" width="55.9" height="20.86" fill="#1515f0"/>
<rect x="953.2" y="988.6" width="58.1" height="20.86" fill="#d6d429"/>
<rect x="1011" y="988.6" width="58.2" height="20.86" fill="#8d8c73"/>
<rect x="1068.9" y="988.6" width="56.8" height="20.86" fill="#ccca33"/>
<rect x="1125.4" y="988.6" width="58.5" height="20.86" fill="#73738d"/>
<rect x="1183.6" y="988.6" width="58.7" height="20.86" fill="#4343c1"/>
<rect x="1242" y="988.6" width="55.9" height="20.86" fill="#1818ee"/>
<rect x="953.2" y="1009.16" width="58.1" height="20.86" fill="#f9f606"/>
<rect x="1011" y="1009.16" width="58.2" height="20.86" fill="#bebd41"/>
<rect x="1068.9" y="1009.16" width="56.8" height="20.86" fill="#7e7e82"/>
<rect x="1125.4" y="1009.16" width="58.5" height="20.86" fill="#5050b2"/>
<rect x="1183.6" y="1009.16" width="58.7" height="20.86" fill="#64649d"/>
<rect x="1242" y="1009.16" width="55.9" height="20.86" fill="#2929dc"/>
<rect x="953.2" y="1029.72" width="58.1" height="20.86" fill="#e1de1f"/>
<rect x="1011" y="1029.72" width="58.2" height="20.86" fill="#c3c23c"/>
<rect x="1068.9" y="1029.72" width="56.8" height="20.86" fill="#7e7e82"/>
<rect x="1125.4" y="1029.72" width="58.5" height="20.86" fill="#5656ac"/>
<rect x="1183.6" y="1029.72" width="58.7" height="20.86" fill="#5050b2"/>
<rect x="1242" y="1029.72" width="55.9" height="20.86" fill="#2929dc"/>
<rect x="953.2" y="1050.28" width="58.1" height="20.86" fill="#e6e31a"/>
<rect x="1011" y="1050.28" width="58.2" height="20.86" fill="#c8c737"/>
<rect x="1068.9" y="1050.28" width="56.8" height="20.86" fill="#83827d"/>
<rect x="1125.4" y="1050.28" width="58.5" height="20.86" fill="#64649d"/>
<rect x="1183.6" y="1050.28" width="58.7" height="20.86" fill="#3d3dc7"/>
<rect x="1242" y="1050.28" width="55.9" height="20.86" fill="#2929dc"/>
<rect x="953.2" y="1070.84" width="58.1" height="20.86" fill="#e6e31a"/>
<rect x="1011" y="1070.84" width="58.2" height="20.86" fill="#c8c737"/>
<rect x="1068.9" y="1070.84" width="56.8" height="20.86" fill="#7e7e82"/>
<rect x="1125.4" y="1070.84" width="58.5" height="20.86" fill="#8d8c73"/>
<rect x="1183.6" y="1070.84" width="58.7" height="20.86" fill="#3d3dc7"/>
<rect x="1242" y="1070.84" width="55.9" height="20.86" fill="#2929dc"/>
<rect x="953.2" y="1091.4" width="58.1" height="20.86" fill="#fcfa03"/>
<rect x="1011" y="1091.4" width="58.2" height="20.86" fill="#afae51"/>
<rect x="1068.9" y="1091.4" width="56.8" height="20.86" fill="#7e7e82"/>
<rect x="1125.4" y="1091.4" width="58.5" height="20.86" fill="#64649d"/>
<rect x="1183.6" y="1091.4" width="58.7" height="20.86" fill="#3333d1"/>
<rect x="1242" y="1091.4" width="55.9" height="20.86" fill="#4747bc"/>
<rect x="953.2" y="1111.96" width="58.1" height="20.86" fill="#afae51"/>
<rect x="1011" y="1111.96" width="58.2" height="20.86" fill="#b4b34c"/>
<rect x="1068.9" y="1111.96" width="56.8" height="20.86" fill="#aaa956"/>
<rect x="1125.4" y="1111.96" width="58.5" height="20.86" fill="#2f2fd5"/>
<rect x="1183.6" y="1111.96" width="58.7" height="20.86" fill="#b9b846"/>
<rect x="1242" y="1111.96" width="55.9" height="20.86" fill="#1818ee"/>
<rect x="953.2" y="1132.52" width="58.1" height="20.86" fill="#afae51"/>
<rect x="1011" y="1132.52" width="58.2" height="20.86" fill="#696998"/>
<rect x="1068.9" y="1132.52" width="56.8" height="20.86" fill="#dbd924"/>
<rect x="1125.4" y="1132.52" width="58.5" height="20.86" fill="#5050b2"/>
<rect x="1183.6" y="1132.52" width="58.7" height="20.86" fill="#afae51"/>
<rect x="1242" y="1132.52" width="55.9" height="20.86" fill="#1818ee"/>
<rect x="953.2" y="1153.08" width="58.1" height="20.86" fill="#bebd41"/>
<rect x="1011" y="1153.08" width="58.2" height="20.86" fill="#2f2fd5"/>
<rect x="1068.9" y="1153.08" width="56.8" height="20.86" fill="#e1de1f"/>
<rect x="1125.4" y="1153.08" width="58.5" height="20.86" fill="#3333d1"/>
<rect x="1183.6" y="1153.08" width="58.7" height="20.86" fill="#a5a45b"/>
<rect x="1242" y="1153.08" width="55.9" height="20.86" fill="#5050b2"/>
<rect x="953.2" y="1173.64" width="58.1" height="20.86" fill="#a09f60"/>
<rect x="1011" y="1173.64" width="58.2" height="20.86" fill="#afae51"/>
<rect x="1068.9" y="1173.64" width="56.8" height="20.86" fill="#c8c737"/>
<rect x="1125.4" y="1173.64" width="58.5" height="20.86" fill="#a5a45b"/>
<rect x="1183.6" y="1173.64" width="58.7" height="20.86" fill="#5b5ba7"/>
<rect x="1242" y="1173.64" width="55.9" height="20.86" fill="#0f0ff6"/>
<rect x="953.2" y="1194.2" width="58.1" height="20.86" fill="#c8c737"/>
<rect x="1011" y="1194.2" width="58.2" height="20.86" fill="#a5a45b"/>
<rect x="1068.9" y="1194.2" width="56.8" height="20.86" fill="#afae51"/>
<rect x="1125.4" y="1194.2" width="58.5" height="20.86" fill="#9b9a65"/>
<rect x="1183.6" y="1194.2" width="58.7" height="20.86" fill="#5b5ba7"/>
<rect x="1242" y="1194.2" width="55.9" height="20.86" fill="#0f0ff6"/>
<rect x="953.2" y="1214.75" width="58.1" height="20.86" fill="#c8c737"/>
<rect x="1011" y="1214.75" width="58.2" height="20.86" fill="#91906f"/>
<rect x="1068.9" y="1214.75" width="56.8" height="20.86" fill="#b4b34c"/>
<rect x="1125.4" y="1214.75" width="58.5" height="20.86" fill="#a09f60"/>
<rect x="1183.6" y="1214.75" width="58.7" height="20.86" fill="#4747bc"/>
<rect x="1242" y="1214.75" width="55.9" height="20.86" fill="#0f0ff6"/>
<rect x="953.2" y="1235.31" width="58.1" height="20.86" fill="#c8c737"/>
<rect x="1011" y="1235.31" width="58.2" height="20.86" fill="#b4b34c"/>
<rect x="1068.9" y="1235.31" width="56.8" height="20.86" fill="#aaa956"/>
<rect x="1125.4" y="1235.31" width="58.5" height="20.86" fill="#86867a"/>
<rect x="1183.6" y="1235.31" width="58.7" height="20.86" fill="#4747bc"/>
<rect x="1242" y="1235.31" width="55.9" height="20.86" fill="#0f0ff6"/>
<rect x="953.2" y="1255.87" width="58.1" height="20.86" fill="#c8c737"/>
<rect x="1011" y="1255.87" width="58.2" height="20.86" fill="#b4b34c"/>
<rect x="1068.9" y="1255.87" width="56.8" height="20.86" fill="#aaa956"/>
<rect x="1125.4" y="1255.87" width="58.5" height="20.86" fill="#86867a"/>
<rect x="1183.6" y="1255.87" width="58.7" height="20.86" fill="#4747bc"/>
<rect x="1242" y="1255.87" width="55.9" height="20.86" fill="#0f0ff6"/>
<rect x="953.2" y="1276.43" width="58.1" height="20.86" fill="#c8c737"/>
<rect x="1011" y="1276.43" width="58.2" height="20.86" fill="#b9b846"/>
<rect x="1068.9" y="1276.43" width="56.8" height="20.86" fill="#aaa956"/>
<rect x="1125.4" y="1276.43" width="58.5" height="20.86" fill="#8d8c73"/>
<rect x="1183.6" y="1276.43" width="58.7" height="20.86" fill="#4343c1"/>
<rect x="1242" y="1276.43" width="55.9" height="20.86" fill="#0f0ff6"/>
<rect x="953.2" y="1296.99" width="58.1" height="20.86" fill="#dbd924"/>
<rect x="1011" y="1296.99" width="58.2" height="20.86" fill="#afae51"/>
<rect x="1068.9" y="1296.99" width="56.8" height="20.86" fill="#96956a"/>
<rect x="1125.4" y="1296.99" width="58.5" height="20.86" fill="#96956a"/>
<rect x="1183.6" y="1296.99" width="58.7" height="20.86" fill="#4343c1"/>
<rect x="1242" y="1296.99" width="55.9" height="20.86" fill="#0f0ff6"/>
<rect x="953.2" y="1317.55" width="58.1" height="20.86" fill="#c8c737"/>
<rect x="1011" y="1317.55" width="58.2" height="20.86" fill="#c3c23c"/>
<rect x="1068.9" y="1317.55" width="56.8" height="20.86" fill="#91906f"/>
<rect x="1125.4" y="1317.55" width="58.5" height="20.86" fill="#aaa956"/>
<rect x="1183.6" y="1317.55" width="58.7" height="20.86" fill="#4343c1"/>
<rect x="1242" y="1317.55" width="55.9" height="20.86" fill="#0f0ff6"/>
<rect x="953.2" y="1338.11" width="58.1" height="20.86" fill="#aaa956"/>
<rect x="1011" y="1338.11" width="58.2" height="20.86" fill="#bebd41"/>
<rect x="1068.9" y="1338.11" width="56.8" height="20.86" fill="#bebd41"/>
<rect x="1125.4" y="1338.11" width="58.5" height="20.86" fill="#a5a45b"/>
<rect x="1183.6" y="1338.11" width="58.7" height="20.86" fill="#2929dc"/>
<rect x="1242" y="1338.11" width="55.9" height="20.86" fill="#2f2fd5"/>
<rect x="953.2" y="1358.67" width="58.1" height="20.86" fill="#afae51"/>
<rect x="1011" y="1358.67" width="58.2" height="20.86" fill="#bebd41"/>
<rect x="1068.9" y="1358.67" width="56.8" height="20.86" fill="#bebd41"/>
<rect x="1125.4" y="1358.67" width="58.5" height="20.86" fill="#a5a45b"/>
<rect x="1183.6" y="1358.67" width="58.7" height="20.86" fill="#1515f0"/>
<rect x="1242" y="1358.67" width="55.9" height="20.86" fill="#3838cc"/>
<rect x="953.2" y="1379.23" width="58.1" height="20.86" fill="#83827d"/>
<rect x="1011" y="1379.23" width="58.2" height="20.86" fill="#86867a"/>
<rect x="1068.9" y="1379.23" width="56.8" height="20.86" fill="#dbd924"/>
<rect x="1125.4" y="1379.23" width="58.5" height="20.86" fill="#dbd924"/>
<rect x="1183.6" y="1379.23" width="58.7" height="20.86" fill="#2424e0"/>
<rect x="1242" y="1379.23" width="55.9" height="20.86" fill="#3838cc"/>
<rect x="953.2" y="1399.79" width="58.1" height="20.86" fill="#a09f60"/>
<rect x="1011" y="1399.79" width="58.2" height="20.86" fill="#8d8c73"/>
<rect x="1068.9" y="1399.79" width="56.8" height="20.86" fill="#ccca33"/>
<rect x="1125.4" y="1399.79" width="58.5" height="20.86" fill="#afae51"/>
<rect x="1183.6" y="1399.79" width="58.7" height="20.86" fill="#4c4cb7"/>
<rect x="1242" y="1399.79" width="55.9" height="20.86" fill="#0f0ff6"/>
<rect x="953.2" y="1420.35" width="58.1" height="20.86" fill="#83827d"/>
<rect x="1011" y="1420.35" width="58.2" height="20.86" fill="#8d8c73"/>
<rect x="1068.9" y="1420.35" width="56.8" height="20.86" fill="#ebe814"/>
<rect x="1125.4" y="1420.35" width="58.5" height="20.86" fill="#afae51"/>
<rect x="1183.6" y="1420.35" width="58.7" height="20.86" fill="#3333d1"/>
<rect x="1242" y="1420.35" width="55.9" height="20.86" fill="#2f2fd5"/>
<rect x="953.2" y="1440.9" width="58.1" height="20.86" fill="#91906f"/>
<rect x="1011" y="1440.9" width="58.2" height="20.86" fill="#a5a45b"/>
<rect x="1068.9" y="1440.9" width="56.8" height="20.86" fill="#e1de1f"/>
<rect x="1125.4" y="1440.9" width="58.5" height="20.86" fill="#a5a45b"/>
<rect x="1183.6" y="1440.9" width="58.7" height="20.86" fill="#3333d1"/>
<rect x="1242" y="1440.9" width="55.9" height="20.86" fill="#1d1de8"/>
<rect x="953.2" y="1461.46" width="58.1" height="20.86" fill="#696998"/>
<rect x="1011" y="1461.46" width="58.2" height="20.86" fill="#696998"/>
<rect x="1068.9" y="1461.46" width="56.8" height="20.86" fill="#e3e11c"/>
<rect x="1125.4" y="1461.46" width="58.5" height="20.86" fill="#86867a"/>
<rect x="1183.6" y="1461.46" width="58.7" height="20.86" fill="#0f0ff6"/>
<rect x="1242" y="1461.46" width="55.9" height="20.86" fill="#c3c23c"/>
<rect x="953.2" y="1482.02" width="58.1" height="20.86" fill="#4343c1"/>
<rect x="1011" y="1482.02" width="58.2" height="20.86" fill="#4747bc"/>
<rect x="1068.9" y="1482.02" width="56.8" height="20.86" fill="#c8c737"/>
<rect x="1125.4" y="1482.02" width="58.5" height="20.86" fill="#fcfa03"/>
<rect x="1183.6" y="1482.02" width="58.7" height="20.86" fill="#4c4cb7"/>
<rect x="1242" y="1482.02" width="55.9" height="20.86" fill="#787889"/>
<rect x="953.2" y="1502.58" width="58.1" height="20.86" fill="#696998"/>
<rect x="1011" y="1502.58" width="58.2" height="20.86" fill="#4c4cb7"/>
<rect x="1068.9" y="1502.58" width="56.8" height="20.86" fill="#e6e31a"/>
<rect x="1125.4" y="1502.58" width="58.5" height="20.86" fill="#f0ed0f"/>
<rect x="1183.6" y="1502.58" width="58.7" height="20.86" fill="#4c4cb7"/>
<rect x="1242" y="1502.58" width="55.9" height="20.86" fill="#2f2fd5"/>
<rect x="953.2" y="1523.14" width="58.1" height="20.86" fill="#73738d"/>
<rect x="1011" y="1523.14" width="58.2" height="20.86" fill="#4c4cb7"/>
<rect x="1068.9" y="1523.14" width="56.8" height="20.86" fill="#f0ed0f"/>
<rect x="1125.4" y="1523.14" width="58.5" height="20.86" fill="#d6d429"/>
<rect x="1183.6" y="1523.14" width="58.7" height="20.86" fill="#5b5ba7"/>
<rect x="1242" y="1523.14" width="55.9" height="20.86" fill="#2f2fd5"/>
</g>
<circle cx="1039.95" cy="200.38" r="4.6" fill="#fffff4" stroke="#000" stroke-width="1.7"/>
<circle cx="1098.05" cy="200.38" r="4.6" fill="#fffff4" stroke="#000" stroke-width="1.7"/>
<circle cx="1039.95" cy="220.94" r="4.6" fill="#fffff4" stroke="#000" stroke-width="1.7"/>
<circle cx="1098.05" cy="220.94" r="4.6" fill="#fffff4" stroke="#000" stroke-width="1.7"/>
<circle cx="982.1" cy="241.5" r="4.6" fill="#fffff4" stroke="#000" stroke-width="1.7"/>
<circle cx="1039.95" cy="241.5" r="4.6" fill="#fffff4" stroke="#000" stroke-width="1.7"/>
<circle cx="982.1" cy="262.06" r="4.6" fill="#fffff4" stroke="#000" stroke-width="1.7"/>
<circle cx="1039.95" cy="262.06" r="4.6" fill="#fffff4" stroke="#000" stroke-width="1.7"/>
<circle cx="1039.95" cy="282.62" r="4.6" fill="#fffff4" stroke="#000" stroke-width="1.7"/>
<circle cx="982.1" cy="303.18" r="4.6" fill="#fffff4" stroke="#000" stroke-width="1.7"/>
<circle cx="1039.95" cy="303.18" r="4.6" fill="#fffff4" stroke="#000" stroke-width="1.7"/>
<circle cx="982.1" cy="323.73" r="4.6" fill="#fffff4" stroke="#000" stroke-width="1.7"/>
<circle cx="1039.95" cy="323.73" r="4.6" fill="#fffff4" stroke="#000" stroke-width="1.7"/>
<circle cx="1098.05" cy="344.29" r="4.6" fill="#fffff4" stroke="#000" stroke-width="1.7"/>
<circle cx="1155.3" cy="344.29" r="4.6" fill="#fffff4" stroke="#000" stroke-width="1.7"/>
<circle cx="1039.95" cy="364.85" r="4.6" fill="#fffff4" stroke="#000" stroke-width="1.7"/>
<circle cx="1098.05" cy="364.85" r="4.6" fill="#fffff4" stroke="#000" stroke-width="1.7"/>
<circle cx="1155.3" cy="364.85" r="4.6" fill="#fffff4" stroke="#000" stroke-width="1.7"/>
<circle cx="1039.95" cy="385.41" r="4.6" fill="#fffff4" stroke="#000" stroke-width="1.7"/>
<circle cx="1098.05" cy="385.41" r="4.6" fill="#fffff4" stroke="#000" stroke-width="1.7"/>
<circle cx="1155.3" cy="385.41" r="4.6" fill="#fffff4" stroke="#000" stroke-width="1.7"/>
<circle cx="1270.3" cy="403.97" r="4.6" fill="#fffff4" stroke="#000" stroke-width="1.7"/>
<circle cx="1098.05" cy="426.53" r="4.6" fill="#fffff4" stroke="#000" stroke-width="1.7"/>
<circle cx="1098.05" cy="447.09" r="4.6" fill="#fffff4" stroke="#000" stroke-width="1.7"/>
<circle cx="1155.3" cy="467.65" r="4.6" fill="#fffff4" stroke="#000" stroke-width="1.7"/>
<circle cx="1155.3" cy="488.21" r="4.6" fill="#fffff4" stroke="#000" stroke-width="1.7"/>
<circle cx="1098.05" cy="508.77" r="4.6" fill="#fffff4" stroke="#000" stroke-width="1.7"/>
<circle cx="1155.3" cy="508.77" r="4.6" fill="#fffff4" stroke="#000" stroke-width="1.7"/>
<circle cx="982.1" cy="532.12" r="4.6" fill="#fffff4" stroke="#000" stroke-width="1.7"/>
<circle cx="982.1" cy="549.88" r="4.6" fill="#fffff4" stroke="#000" stroke-width="1.7"/>
<circle cx="1039.95" cy="549.88" r="4.6" fill="#fffff4" stroke="#000" stroke-width="1.7"/>
<circle cx="982.1" cy="572.44" r="4.6" fill="#fffff4" stroke="#000" stroke-width="1.7"/>
<circle cx="1039.95" cy="572.44" r="4.6" fill="#fffff4" stroke="#000" stroke-width="1.7"/>
<circle cx="982.1" cy="591" r="4.6" fill="#fffff4" stroke="#000" stroke-width="1.7"/>
<circle cx="982.1" cy="613.16" r="4.6" fill="#fffff4" stroke="#000" stroke-width="1.7"/>
<circle cx="1039.95" cy="613.16" r="4.6" fill="#fffff4" stroke="#000" stroke-width="1.7"/>
<circle cx="1039.95" cy="632.12" r="4.6" fill="#fffff4" stroke="#000" stroke-width="1.7"/>
<circle cx="1039.95" cy="652.68" r="4.6" fill="#fffff4" stroke="#000" stroke-width="1.7"/>
<circle cx="1039.95" cy="672.04" r="4.6" fill="#fffff4" stroke="#000" stroke-width="1.7"/>
<circle cx="982.1" cy="693.8" r="4.6" fill="#fffff4" stroke="#000" stroke-width="1.7"/>
<circle cx="1039.95" cy="714.36" r="4.6" fill="#fffff4" stroke="#000" stroke-width="1.7"/>
<circle cx="1214.8" cy="734.92" r="4.6" fill="#fffff4" stroke="#000" stroke-width="1.7"/>
<circle cx="982.1" cy="757.48" r="4.6" fill="#fffff4" stroke="#000" stroke-width="1.7"/>
<circle cx="1039.95" cy="757.48" r="4.6" fill="#fffff4" stroke="#000" stroke-width="1.7"/>
<circle cx="982.1" cy="777.43" r="4.6" fill="#fffff4" stroke="#000" stroke-width="1.7"/>
<circle cx="1039.95" cy="777.43" r="4.6" fill="#fffff4" stroke="#000" stroke-width="1.7"/>
<circle cx="982.1" cy="796.59" r="4.6" fill="#fffff4" stroke="#000" stroke-width="1.7"/>
<circle cx="1039.95" cy="817.15" r="4.6" fill="#fffff4" stroke="#000" stroke-width="1.7"/>
<circle cx="982.1" cy="837.71" r="4.6" fill="#fffff4" stroke="#000" stroke-width="1.7"/>
<circle cx="1039.95" cy="837.71" r="4.6" fill="#fffff4" stroke="#000" stroke-width="1.7"/>
<circle cx="982.1" cy="856.37" r="4.6" fill="#fffff4" stroke="#000" stroke-width="1.7"/>
<circle cx="1039.95" cy="856.37" r="4.6" fill="#fffff4" stroke="#000" stroke-width="1.7"/>
<circle cx="1098.05" cy="856.37" r="4.6" fill="#fffff4" stroke="#000" stroke-width="1.7"/>
<circle cx="1214.8" cy="856.37" r="4.6" fill="#fffff4" stroke="#000" stroke-width="1.7"/>
<circle cx="982.1" cy="878.83" r="4.6" fill="#fffff4" stroke="#000" stroke-width="1.7"/>
<circle cx="1155.3" cy="897.89" r="4.6" fill="#fffff4" stroke="#000" stroke-width="1.7"/>
<circle cx="1270.3" cy="897.89" r="4.6" fill="#fffff4" stroke="#000" stroke-width="1.7"/>
<circle cx="1098.05" cy="918.45" r="4.6" fill="#fffff4" stroke="#000" stroke-width="1.7"/>
<circle cx="1155.3" cy="918.45" r="4.6" fill="#fffff4" stroke="#000" stroke-width="1.7"/>
<circle cx="1214.8" cy="918.45" r="4.6" fill="#fffff4" stroke="#000" stroke-width="1.7"/>
<circle cx="1270.3" cy="918.45" r="4.6" fill="#fffff4" stroke="#000" stroke-width="1.7"/>
<circle cx="1039.95" cy="940.51" r="4.6" fill="#fffff4" stroke="#000" stroke-width="1.7"/>
<circle cx="1098.05" cy="940.51" r="4.6" fill="#fffff4" stroke="#000" stroke-width="1.7"/>
<circle cx="1155.3" cy="940.51" r="4.6" fill="#fffff4" stroke="#000" stroke-width="1.7"/>
<circle cx="1214.8" cy="940.51" r="4.6" fill="#fffff4" stroke="#000" stroke-width="1.7"/>
<circle cx="1270.3" cy="940.51" r="4.6" fill="#fffff4" stroke="#000" stroke-width="1.7"/>
<circle cx="982.1" cy="961.07" r="4.6" fill="#fffff4" stroke="#000" stroke-width="1.7"/>
<circle cx="1214.8" cy="981.63" r="4.6" fill="#fffff4" stroke="#000" stroke-width="1.7"/>
<circle cx="1270.3" cy="981.63" r="4.6" fill="#fffff4" stroke="#000" stroke-width="1.7"/>
<circle cx="1039.95" cy="1002.18" r="4.6" fill="#fffff4" stroke="#000" stroke-width="1.7"/>
<circle cx="1155.3" cy="1002.18" r="4.6" fill="#fffff4" stroke="#000" stroke-width="1.7"/>
<circle cx="1214.8" cy="1002.18" r="4.6" fill="#fffff4" stroke="#000" stroke-width="1.7"/>
<circle cx="1270.3" cy="1002.18" r="4.6" fill="#fffff4" stroke="#000" stroke-width="1.7"/>
<circle cx="982.1" cy="1022.74" r="4.6" fill="#fffff4" stroke="#000" stroke-width="1.7"/>
<circle cx="982.1" cy="1045" r="4.6" fill="#fffff4" stroke="#000" stroke-width="1.7"/>
<circle cx="1039.95" cy="1045" r="4.6" fill="#fffff4" stroke="#000" stroke-width="1.7"/>
<circle cx="982.1" cy="1082.72" r="4.6" fill="#fffff4" stroke="#000" stroke-width="1.7"/>
<circle cx="982.1" cy="1104.98" r="4.6" fill="#fffff4" stroke="#000" stroke-width="1.7"/>
<circle cx="1039.95" cy="1104.98" r="4.6" fill="#fffff4" stroke="#000" stroke-width="1.7"/>
<circle cx="1039.95" cy="1125.54" r="4.6" fill="#fffff4" stroke="#000" stroke-width="1.7"/>
<circle cx="1098.05" cy="1125.54" r="4.6" fill="#fffff4" stroke="#000" stroke-width="1.7"/>
<circle cx="1214.8" cy="1125.54" r="4.6" fill="#fffff4" stroke="#000" stroke-width="1.7"/>
<circle cx="982.1" cy="1146.1" r="4.6" fill="#fffff4" stroke="#000" stroke-width="1.7"/>
<circle cx="1039.95" cy="1146.1" r="4.6" fill="#fffff4" stroke="#000" stroke-width="1.7"/>
<circle cx="1098.05" cy="1146.1" r="4.6" fill="#fffff4" stroke="#000" stroke-width="1.7"/>
<circle cx="1214.8" cy="1146.1" r="4.6" fill="#fffff4" stroke="#000" stroke-width="1.7"/>
<circle cx="982.1" cy="1169.66" r="4.6" fill="#fffff4" stroke="#000" stroke-width="1.7"/>
<circle cx="1098.05" cy="1169.66" r="4.6" fill="#fffff4" stroke="#000" stroke-width="1.7"/>
<circle cx="1270.3" cy="1189.82" r="4.6" fill="#fffff4" stroke="#000" stroke-width="1.7"/>
<circle cx="1270.3" cy="1209.58" r="4.6" fill="#fffff4" stroke="#000" stroke-width="1.7"/>
<circle cx="982.1" cy="1231.33" r="4.6" fill="#fffff4" stroke="#000" stroke-width="1.7"/>
<circle cx="1098.05" cy="1231.33" r="4.6" fill="#fffff4" stroke="#000" stroke-width="1.7"/>
<circle cx="1270.3" cy="1251.59" r="4.6" fill="#fffff4" stroke="#000" stroke-width="1.7"/>
<circle cx="1214.8" cy="1269.45" r="4.6" fill="#fffff4" stroke="#000" stroke-width="1.7"/>
<circle cx="1270.3" cy="1269.45" r="4.6" fill="#fffff4" stroke="#000" stroke-width="1.7"/>
<circle cx="1214.8" cy="1292.71" r="4.6" fill="#fffff4" stroke="#000" stroke-width="1.7"/>
<circle cx="1270.3" cy="1292.71" r="4.6" fill="#fffff4" stroke="#000" stroke-width="1.7"/>
<circle cx="1270.3" cy="1310.57" r="4.6" fill="#fffff4" stroke="#000" stroke-width="1.7"/>
<circle cx="982.1" cy="1331.13" r="4.6" fill="#fffff4" stroke="#000" stroke-width="1.7"/>
<circle cx="1039.95" cy="1331.13" r="4.6" fill="#fffff4" stroke="#000" stroke-width="1.7"/>
<circle cx="1214.8" cy="1351.69" r="4.6" fill="#fffff4" stroke="#000" stroke-width="1.7"/>
<circle cx="1098.05" cy="1372.25" r="4.6" fill="#fffff4" stroke="#000" stroke-width="1.7"/>
<circle cx="1098.05" cy="1392.81" r="4.6" fill="#fffff4" stroke="#000" stroke-width="1.7"/>
<circle cx="1098.05" cy="1416.07" r="4.6" fill="#fffff4" stroke="#000" stroke-width="1.7"/>
<circle cx="1155.3" cy="1416.07" r="4.6" fill="#fffff4" stroke="#000" stroke-width="1.7"/>
<circle cx="1098.05" cy="1433.93" r="4.6" fill="#fffff4" stroke="#000" stroke-width="1.7"/>
<circle cx="1098.05" cy="1454.48" r="4.6" fill="#fffff4" stroke="#000" stroke-width="1.7"/>
<circle cx="982.1" cy="1475.04" r="4.6" fill="#fffff4" stroke="#000" stroke-width="1.7"/>
<circle cx="1098.05" cy="1475.04" r="4.6" fill="#fffff4" stroke="#000" stroke-width="1.7"/>
<circle cx="1098.05" cy="1495.6" r="4.6" fill="#fffff4" stroke="#000" stroke-width="1.7"/>
<circle cx="1155.3" cy="1495.6" r="4.6" fill="#fffff4" stroke="#000" stroke-width="1.7"/>
<circle cx="1098.05" cy="1516.16" r="4.6" fill="#fffff4" stroke="#000" stroke-width="1.7"/>
<circle cx="1155.3" cy="1516.16" r="4.6" fill="#fffff4" stroke="#000" stroke-width="1.7"/>
<circle cx="1098.05" cy="1536.72" r="4.6" fill="#fffff4" stroke="#000" stroke-width="1.7"/>
<circle cx="1155.3" cy="1536.72" r="4.6" fill="#fffff4" stroke="#000" stroke-width="1.7"/>
<rect x="953" y="1544" width="373.6" height="38.8" fill="#eeeeee"/>
<rect x="1298.2" y="187.3" width="445" height="1357" fill="none" stroke="#000" stroke-width="2.6"/>
<line x1="1298" y1="516.9" x2="1743" y2="516.9" stroke="#000" stroke-width="1.6" />
<line x1="1298" y1="1113.9" x2="1743" y2="1113.9" stroke="#000" stroke-width="1.6" />
<text x="1315.2" y="211.3" font-size="18.6" font-family="'DejaVu Sans',Verdana,sans-serif" text-anchor="start" font-weight="bold" fill="#000" letter-spacing="0.6">Cluster I</text>
<text x="1315.2" y="233" font-size="18.6" font-family="'DejaVu Sans',Verdana,sans-serif" text-anchor="start" font-weight="bold" fill="#000" letter-spacing="0.6">Oxidation-reduction process (4)</text>
<text x="1315.2" y="256.8" font-size="18.6" font-family="'DejaVu Sans',Verdana,sans-serif" text-anchor="start" font-weight="bold" fill="#000" letter-spacing="0.6">Pyruvate metabolism (2)</text>
<text x="1315.2" y="282" font-size="18.6" font-family="'DejaVu Sans',Verdana,sans-serif" text-anchor="start" font-weight="bold" fill="#000" letter-spacing="0.6">Cofactor and vitamins metabolism</text>
<text x="1315.2" y="303.2" font-size="18.6" font-family="'DejaVu Sans',Verdana,sans-serif" text-anchor="start" font-weight="bold" fill="#000" letter-spacing="0.6">Glycogen metabolism</text>
<text x="1315.2" y="327.1" font-size="18.6" font-family="'DejaVu Sans',Verdana,sans-serif" text-anchor="start" font-weight="bold" fill="#000" letter-spacing="0.6">Sugar phosphotransferase system</text>
<text x="1315.2" y="352.2" font-size="18.6" font-family="'DejaVu Sans',Verdana,sans-serif" text-anchor="start" font-weight="bold" fill="#000" letter-spacing="0.6">Starch and sucorse metabolism</text>
<text x="1315.2" y="374" font-size="18.6" font-family="'DejaVu Sans',Verdana,sans-serif" text-anchor="start" font-weight="bold" fill="#000" letter-spacing="0.6">Lysine biosynthesis</text>
<text x="1315.2" y="397.3" font-size="18.6" font-family="'DejaVu Sans',Verdana,sans-serif" text-anchor="start" font-weight="bold" fill="#000" letter-spacing="0.6">Phosphate transport</text>
<text x="1314.4" y="541.1" font-size="18.6" font-family="'DejaVu Sans',Verdana,sans-serif" text-anchor="start" font-weight="bold" fill="#000" letter-spacing="0.6">Cluster II</text>
<text x="1314.4" y="566.2" font-size="18.6" font-family="'DejaVu Sans',Verdana,sans-serif" text-anchor="start" font-weight="bold" fill="#000" letter-spacing="0.6">Oxidation-reduction process (6)</text>
<text x="1314.4" y="590.1" font-size="18.6" font-family="'DejaVu Sans',Verdana,sans-serif" text-anchor="start" font-weight="bold" fill="#000" letter-spacing="0.6">Pyruvate metabolism (3)</text>
<text x="1314.4" y="614.5" font-size="18.6" font-family="'DejaVu Sans',Verdana,sans-serif" text-anchor="start" font-weight="bold" fill="#000" letter-spacing="0.6">Carbonhydrate metabolism (2)</text>
<text x="1314.4" y="638.3" font-size="18.6" font-family="'DejaVu Sans',Verdana,sans-serif" text-anchor="start" font-weight="bold" fill="#000" letter-spacing="0.6">Glycerolipid metabolism (2)</text>
<text x="1314.4" y="661.6" font-size="18.6" font-family="'DejaVu Sans',Verdana,sans-serif" text-anchor="start" font-weight="bold" fill="#000" letter-spacing="0.6">Purine metabolism</text>
<text x="1314.4" y="685.5" font-size="18.6" font-family="'DejaVu Sans',Verdana,sans-serif" text-anchor="start" font-weight="bold" fill="#000" letter-spacing="0.6">Tyrosine metabolism</text>
<text x="1314.4" y="709.9" font-size="18.6" font-family="'DejaVu Sans',Verdana,sans-serif" text-anchor="start" font-weight="bold" fill="#000" letter-spacing="0.6">Lipid metabolism</text>
<text x="1314.4" y="733.7" font-size="18.6" font-family="'DejaVu Sans',Verdana,sans-serif" text-anchor="start" font-weight="bold" fill="#000" letter-spacing="0.6">Steroid degradation</text>
<text x="1314.4" y="757.6" font-size="18.6" font-family="'DejaVu Sans',Verdana,sans-serif" text-anchor="start" font-weight="bold" fill="#000" letter-spacing="0.6">Phosphate transporter</text>
<text x="1314.4" y="782.2" font-size="18.6" font-family="'DejaVu Sans',Verdana,sans-serif" text-anchor="start" font-weight="bold" fill="#000" letter-spacing="0.6">Maltose transporter</text>
<text x="1314.4" y="806.6" font-size="18.6" font-family="'DejaVu Sans',Verdana,sans-serif" text-anchor="start" font-weight="bold" fill="#000" letter-spacing="0.6">Amino acid transporter</text>
<text x="1314.4" y="830.7" font-size="18.6" font-family="'DejaVu Sans',Verdana,sans-serif" text-anchor="start" font-weight="bold" fill="#000" letter-spacing="0.6">Caron fixation</text>
<text x="1316.5" y="1139.7" font-size="18.6" font-family="'DejaVu Sans',Verdana,sans-serif" text-anchor="start" font-weight="bold" fill="#000" letter-spacing="0.6">Cluster III</text>
<text x="1316.5" y="1163.1" font-size="18.6" font-family="'DejaVu Sans',Verdana,sans-serif" text-anchor="start" font-weight="bold" fill="#000" letter-spacing="0.6">Steroid degradation (4)</text>
<text x="1316.5" y="1187.4" font-size="18.6" font-family="'DejaVu Sans',Verdana,sans-serif" text-anchor="start" font-weight="bold" fill="#000" letter-spacing="0.6">ABC transport (3)</text>
<text x="1316.5" y="1212.6" font-size="18.6" font-family="'DejaVu Sans',Verdana,sans-serif" text-anchor="start" font-weight="bold" fill="#000" letter-spacing="0.6">Fructose and mannose metabolism (2)</text>
<text x="1316.5" y="1237.8" font-size="18.6" font-family="'DejaVu Sans',Verdana,sans-serif" text-anchor="start" font-weight="bold" fill="#000" letter-spacing="0.6">Oxidation-reduction process (2)</text>
<text x="1316.5" y="1263" font-size="18.6" font-family="'DejaVu Sans',Verdana,sans-serif" text-anchor="start" font-weight="bold" fill="#000" letter-spacing="0.6">Lipid metabolism (2)</text>
<text x="1316.5" y="1288.1" font-size="18.6" font-family="'DejaVu Sans',Verdana,sans-serif" text-anchor="start" font-weight="bold" fill="#000" letter-spacing="0.6">Sugar phosphotransferase system</text>
<text x="1316.5" y="1314.6" font-size="18.6" font-family="'DejaVu Sans',Verdana,sans-serif" text-anchor="start" font-weight="bold" fill="#000" letter-spacing="0.6">Starch and sucorse metabolism</text>
<text x="1316.5" y="1337.7" font-size="18.6" font-family="'DejaVu Sans',Verdana,sans-serif" text-anchor="start" font-weight="bold" fill="#000" letter-spacing="0.6">Sodium ion transport</text>
<path d="M946 194.1H877.2V214.66H946M946 255.78H922.5V276.34H946M946 235.22H912.2V266.06H922.5M946 296.9H931.5V317.46H946M912.2 250.64H894.5V307.18H931.5M946 338.02H918.4V358.58H946M918.4 348.3H906V379.14H946M894.5 278.91H831.7V363.72H906M877.2 204.38H816.8V321.31H831.7M946 420.26H901.1V440.82H946M946 481.94H920.5V502.5H946M946 461.38H883.8V492.22H920.5M901.1 430.54H861.7V476.8H883.8M946 399.7H807.5V453.67H861.7M816.8 262.85H753.9V426.68H807.5M946 523.06H927.1V543.62H946M946 564.18H931.5V584.74H946M927.1 533.34H914.2V574.46H931.5M914.2 553.9H903.6V605.3H946M946 625.86H914.2V646.42H946M946 666.98H901.1V687.54H946M914.2 636.14H883.8V677.26H901.1M903.6 579.6H872.8V656.7H883.8M946 728.66H930.8V749.22H946M946 708.1H903.2V738.94H930.8M946 769.78H924.6V790.34H946M946 810.9H930.8V831.46H946M924.6 780.06H907.6V821.18H930.8M903.2 723.52H896.5V800.62H907.6M946 872.58H920.5V893.14H946M946 852.02H903.2V882.86H920.5M946 913.7H925.3V934.26H946M925.3 923.98H912.2V954.82H946M946 975.38H920.5V995.94H946M912.2 939.4H907.6V985.66H920.5M946 1016.5H933.6V1037.06H946M946 1057.62H929.5V1078.18H946M929.5 1067.9H920.5V1098.74H946M933.6 1026.78H911.5V1083.32H920.5M907.6 962.53H888V1055.05H911.5M903.2 867.44H872.8V1008.79H888M896.5 762.07H840.3V938.12H872.8M872.8 618.15H809.9V850.09H840.3M946 1119.3H894.9V1139.86H946M894.9 1129.58H853.4V1160.42H946M946 1201.54H931.5V1222.1H946M946 1242.66H944V1263.22H946M944 1252.94H940V1283.78H946M940 1268.36H931.4V1304.34H946M931.4 1286.35H920.2V1324.9H946M931.5 1211.82H916.2V1305.62H920.2M946 1180.98H899V1258.72H916.2M946 1345.46H935V1366.02H946M946 1427.7H930.8V1448.26H946M946 1407.14H919.8V1437.98H930.8M946 1386.58H903.2V1422.56H919.8M935 1355.74H891.4V1404.57H903.2M899 1219.85H859.6V1380.15H891.4M853.4 1145H798.8V1300H859.6M946 1509.94H929.5V1530.5H946M946 1489.38H883.8V1520.22H929.5M946 1468.82H834V1504.8H883.8M809.9 734.12H766.6V1222.5H798.8M766.6 978.31H742.8V1486.81H834M753.9 344.77H736.6V1232.56H742.8" fill="none" stroke="#000" stroke-width="3.4" stroke-linejoin="miter" stroke-linecap="butt"/>
<text x="742.2" y="1618.4" font-size="34.5" font-family="'Liberation Sans',Arial,sans-serif" text-anchor="start" font-weight="bold" fill="#000" stroke="#000" stroke-width="0.7">F</text>
<line x1="821.4" y1="1651" x2="821.4" y2="2080.5" stroke="#000" stroke-width="4" />
<line x1="813.8" y1="1652.5" x2="828.9" y2="1652.5" stroke="#000" stroke-width="4" />
<line x1="813.8" y1="1723.6" x2="828.9" y2="1723.6" stroke="#000" stroke-width="4" />
<line x1="813.8" y1="1795.3" x2="828.9" y2="1795.3" stroke="#000" stroke-width="4" />
<line x1="813.8" y1="1865.6" x2="828.9" y2="1865.6" stroke="#000" stroke-width="4" />
<line x1="813.8" y1="1937.2" x2="828.9" y2="1937.2" stroke="#000" stroke-width="4" />
<line x1="813.8" y1="2007.5" x2="828.9" y2="2007.5" stroke="#000" stroke-width="4" />
<line x1="813.8" y1="2078.7" x2="828.9" y2="2078.7" stroke="#000" stroke-width="4" />
<line x1="813.8" y1="1865.6" x2="1454.5" y2="1865.6" stroke="#000" stroke-width="4" />
<line x1="926.7" y1="1858.8" x2="926.7" y2="1874.3" stroke="#000" stroke-width="4" />
<line x1="1031.6" y1="1858.8" x2="1031.6" y2="1874.3" stroke="#000" stroke-width="4" />
<line x1="1136.5" y1="1858.8" x2="1136.5" y2="1874.3" stroke="#000" stroke-width="4" />
<line x1="1242.6" y1="1858.8" x2="1242.6" y2="1874.3" stroke="#000" stroke-width="4" />
<line x1="1347.9" y1="1858.8" x2="1347.9" y2="1874.3" stroke="#000" stroke-width="4" />
<line x1="1452.8" y1="1858.8" x2="1452.8" y2="1874.3" stroke="#000" stroke-width="4" />
<rect x="848.7" y="1713.4" width="51.2" height="241.7" fill="#bfbfbf" stroke="#000" stroke-width="1.6"/>
<text x="872.3" y="1706.1" font-size="21" font-family="'Liberation Sans',Arial,sans-serif" text-anchor="middle" font-weight="normal" fill="#000" >43</text>
<text x="872.3" y="1973.3" font-size="21" font-family="'Liberation Sans',Arial,sans-serif" text-anchor="middle" font-weight="normal" fill="#000" >25</text>
<rect x="953.1" y="1773.1" width="51.7" height="182" fill="#bfbfbf" stroke="#000" stroke-width="1.6"/>
<text x="978.25" y="1765.8" font-size="21" font-family="'Liberation Sans',Arial,sans-serif" text-anchor="middle" font-weight="normal" fill="#000" >26</text>
<text x="978.25" y="1973.3" font-size="21" font-family="'Liberation Sans',Arial,sans-serif" text-anchor="middle" font-weight="normal" fill="#000" >25</text>
<rect x="1058.4" y="1826.4" width="51.3" height="156.8" fill="#bfbfbf" stroke="#000" stroke-width="1.6"/>
<text x="1082.85" y="1819.1" font-size="21" font-family="'Liberation Sans',Arial,sans-serif" text-anchor="middle" font-weight="normal" fill="#000" >11</text>
<text x="1082.85" y="2001.4" font-size="21" font-family="'Liberation Sans',Arial,sans-serif" text-anchor="middle" font-weight="normal" fill="#000" >33</text>
<rect x="1162" y="1716.4" width="55" height="281.3" fill="#000"/>
<text x="1189.1" y="1709.1" font-size="21" font-family="'Liberation Sans',Arial,sans-serif" text-anchor="middle" font-weight="normal" fill="#000" >42</text>
<text x="1189.1" y="2015.9" font-size="21" font-family="'Liberation Sans',Arial,sans-serif" text-anchor="middle" font-weight="normal" fill="#000" >37</text>
<rect x="1268.2" y="1811.5" width="53.7" height="154.7" fill="#000"/>
<text x="1295.35" y="1804.2" font-size="21" font-family="'Liberation Sans',Arial,sans-serif" text-anchor="middle" font-weight="normal" fill="#000" >15</text>
<text x="1295.35" y="1984.4" font-size="21" font-family="'Liberation Sans',Arial,sans-serif" text-anchor="middle" font-weight="normal" fill="#000" >28</text>
<rect x="1373.5" y="1829.4" width="53.7" height="161.1" fill="#000"/>
<text x="1400.05" y="1822.1" font-size="21" font-family="'Liberation Sans',Arial,sans-serif" text-anchor="middle" font-weight="normal" fill="#000" >10</text>
<text x="1400.05" y="2008.7" font-size="21" font-family="'Liberation Sans',Arial,sans-serif" text-anchor="middle" font-weight="normal" fill="#000" >35</text>
<line x1="813.8" y1="1865.6" x2="1454.5" y2="1865.6" stroke="#000" stroke-width="4" />
<text transform="translate(796,1866.7) rotate(-90)" font-size="26.2" font-family="'Liberation Serif','Times New Roman',serif" text-anchor="middle" fill="#000">Number of protein</text>
<text x="848.7" y="2107.5" font-size="15.7" font-family="'Liberation Sans',Arial,sans-serif" text-anchor="start" font-weight="normal" fill="#000" >31_16</text>
<line x1="854.3" y1="2126.5" x2="903.3" y2="2105.2" stroke="#000" stroke-width="1.4" />
<text x="869.5" y="2133" font-size="15.7" font-family="'Liberation Sans',Arial,sans-serif" text-anchor="start" font-weight="normal" fill="#000" >25_16</text>
<text x="953" y="2105.5" font-size="15.7" font-family="'Liberation Sans',Arial,sans-serif" text-anchor="start" font-weight="normal" fill="#000" >31_24</text>
<line x1="958.6" y1="2124.5" x2="1007.6" y2="2103.2" stroke="#000" stroke-width="1.4" />
<text x="973.8" y="2131" font-size="15.7" font-family="'Liberation Sans',Arial,sans-serif" text-anchor="start" font-weight="normal" fill="#000" >25_24</text>
<text x="1051" y="2105.5" font-size="15.7" font-family="'Liberation Sans',Arial,sans-serif" text-anchor="start" font-weight="normal" fill="#000" >31_48</text>
<line x1="1056.6" y1="2124.5" x2="1105.6" y2="2103.2" stroke="#000" stroke-width="1.4" />
<text x="1071.8" y="2131" font-size="15.7" font-family="'Liberation Sans',Arial,sans-serif" text-anchor="start" font-weight="normal" fill="#000" >25_48</text>
<text x="1160" y="2107.5" font-size="15.7" font-family="'Liberation Sans',Arial,sans-serif" text-anchor="start" font-weight="normal" fill="#000" >33_16</text>
<line x1="1165.6" y1="2126.5" x2="1214.6" y2="2105.2" stroke="#000" stroke-width="1.4" />
<text x="1180.8" y="2133" font-size="15.7" font-family="'Liberation Sans',Arial,sans-serif" text-anchor="start" font-weight="normal" fill="#000" >25_16</text>
<text x="1269" y="2107.5" font-size="15.7" font-family="'Liberation Sans',Arial,sans-serif" text-anchor="start" font-weight="normal" fill="#000" >33_24</text>
<line x1="1274.6" y1="2126.5" x2="1323.6" y2="2105.2" stroke="#000" stroke-width="1.4" />
<text x="1289.8" y="2133" font-size="15.7" font-family="'Liberation Sans',Arial,sans-serif" text-anchor="start" font-weight="normal" fill="#000" >25_24</text>
<text x="1367" y="2106.5" font-size="15.7" font-family="'Liberation Sans',Arial,sans-serif" text-anchor="start" font-weight="normal" fill="#000" >33_48</text>
<line x1="1372.6" y1="2125.5" x2="1421.6" y2="2104.2" stroke="#000" stroke-width="1.4" />
<text x="1387.8" y="2132" font-size="15.7" font-family="'Liberation Sans',Arial,sans-serif" text-anchor="start" font-weight="normal" fill="#000" >25_48</text>
</svg></body></html>
